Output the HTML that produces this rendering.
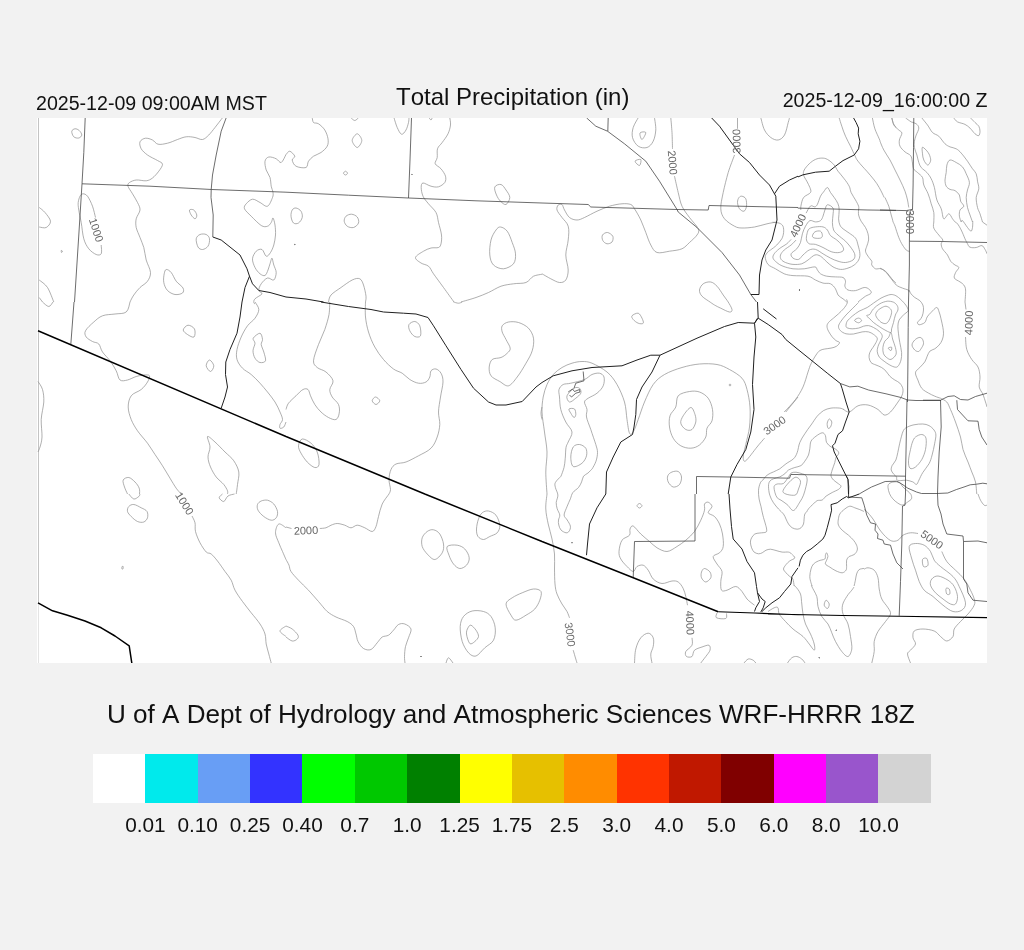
<!DOCTYPE html>
<html><head><meta charset="utf-8"><title>Total Precipitation (in)</title>
<style>
html,body{margin:0;padding:0;}
body{font-kerning:none;width:1024px;height:950px;background:#f2f2f2;position:relative;overflow:hidden;font-family:"Liberation Sans",sans-serif;color:#111;}
#map{position:absolute;left:37px;top:118px;width:950px;height:545px;background:#fff;}
.t{position:absolute;white-space:nowrap;line-height:1;font-kerning:none;}
#tl{left:36px;top:94.2px;font-size:19.6px;}
#tc{left:396px;top:85.1px;font-size:24px;}
#tr{right:36.5px;top:91.2px;font-size:19.6px;}
#bt{left:106.9px;top:701px;font-size:26.1px;}
#cb{position:absolute;left:93px;top:754px;width:838px;height:49px;}
#cb i{position:absolute;top:0;height:49px;display:block;}
.lb{position:absolute;top:815px;font-size:20.8px;line-height:1;transform:translateX(-50%);white-space:nowrap;}
</style></head><body>
<div id="tl" class="t">2025-12-09 09:00AM MST</div>
<div id="tc" class="t">Total Precipitation (in)</div>
<div id="tr" class="t">2025-12-09_16:00:00 Z</div>
<div id="map">
<svg id="ms" width="950" height="545" viewBox="37 118 950 545" style="position:absolute;left:0;top:0" fill="none">
<path stroke="#c4c4c4" stroke-width="1" d="M38.5 118V603"/><path stroke="#e4e4e4" stroke-width="1" d="M38.5 603V663"/>
<path stroke="#8c8c8c" stroke-width="0.7" d="M71.8 131.2C72.0 129.9 73.8 128.9 75.0 128.8C76.2 128.6 78.1 129.5 79.2 130.5C80.4 131.5 81.8 133.8 81.8 135.0C81.7 136.2 80.1 137.7 78.8 138.0C77.4 138.3 74.9 137.9 73.8 136.8C72.6 135.6 71.5 132.6 71.8 131.2ZM222.5 117.8C221.2 119.4 217.3 124.6 215.0 127.5C212.7 130.4 210.8 133.0 208.8 135.0C206.7 137.0 204.8 139.1 202.5 139.5C200.2 139.9 197.7 138.0 195.0 137.5C192.3 137.0 189.2 136.4 186.2 136.8C183.3 137.1 180.6 138.4 177.5 139.5C174.4 140.6 170.8 142.5 167.5 143.2C164.2 144.0 160.5 144.8 158.0 144.2C155.5 143.7 154.6 141.0 152.5 140.0C150.4 139.0 147.6 138.0 145.5 138.2C143.4 138.5 140.7 140.0 140.0 141.8C139.3 143.5 140.0 146.5 141.2 148.8C142.5 151.0 144.8 153.0 147.5 155.0C150.2 157.0 155.0 159.0 157.5 160.5C160.0 162.0 162.3 162.5 162.5 164.2C162.7 166.0 160.4 169.0 158.8 171.2C157.1 173.5 154.6 176.4 152.5 178.0C150.4 179.6 149.0 180.4 146.2 180.8C143.5 181.1 139.0 179.7 136.2 180.0C133.5 180.3 130.9 181.5 129.5 182.5C128.1 183.5 127.5 184.4 128.0 186.2C128.5 188.1 130.9 191.0 132.5 193.8C134.1 196.5 136.2 199.8 137.5 202.5C138.8 205.2 140.2 207.3 140.0 210.0C139.8 212.7 136.9 215.8 136.2 218.8C135.6 221.7 135.6 224.4 136.2 227.5C136.9 230.6 138.8 234.2 140.0 237.5C141.2 240.8 142.7 243.8 143.8 247.5C144.8 251.2 145.1 255.8 146.2 260.0C147.4 264.2 150.3 269.0 150.5 272.5C150.7 276.0 149.2 278.8 147.5 281.2C145.8 283.8 142.3 285.2 140.0 287.5C137.7 289.8 135.4 292.6 133.8 295.0C132.1 297.4 130.6 300.8 130.0 302.0M95.5 217.5C95.0 215.6 93.8 209.8 92.5 206.2C91.2 202.7 89.1 198.3 87.5 196.2C85.9 194.2 84.2 193.8 83.0 193.8C81.8 193.8 80.8 194.8 80.0 196.2C79.2 197.7 78.5 200.2 78.2 202.5C78.0 204.8 78.2 206.7 78.8 210.0C79.2 213.3 80.4 217.7 81.2 222.5C82.1 227.3 82.5 234.4 83.8 238.8C85.0 243.1 86.7 246.1 88.8 248.8C90.8 251.4 94.2 253.7 96.2 254.5C98.3 255.3 100.4 255.3 101.2 253.8C102.1 252.2 101.2 246.5 101.2 245.0M39.2 207.5C40.2 208.3 43.1 210.2 45.0 212.5C46.9 214.8 50.3 218.8 50.5 221.2C50.7 223.8 48.1 226.5 46.2 227.5C44.4 228.5 40.4 227.1 39.2 227.0M39.2 280.0C40.6 281.2 45.1 283.8 47.5 287.5C49.9 291.2 52.7 299.6 53.8 302.0M39.2 297.5 L42.5 302.0M61.2 250.5C61.4 250.3 62.5 250.9 62.5 251.2C62.5 251.6 61.7 252.6 61.5 252.5C61.3 252.4 61.1 250.7 61.2 250.5ZM189.5 210.0C189.9 209.2 192.5 209.2 193.8 210.0C195.0 210.8 196.5 213.5 196.8 215.0C197.0 216.5 195.9 218.8 195.0 218.8C194.1 218.8 192.2 216.5 191.2 215.0C190.3 213.5 189.1 210.8 189.5 210.0ZM196.2 238.8C196.6 236.7 198.3 235.2 200.0 234.5C201.7 233.8 204.7 233.8 206.2 234.5C207.8 235.2 209.2 236.8 209.5 238.8C209.8 240.7 209.2 244.5 208.0 246.2C206.8 248.0 204.2 249.4 202.5 249.5C200.8 249.6 199.0 248.8 198.0 247.0C197.0 245.2 195.9 240.8 196.2 238.8ZM166.2 269.5C167.4 269.3 169.6 270.5 171.2 272.5C172.9 274.5 174.3 278.7 176.2 281.2C178.2 283.8 182.0 286.0 183.0 288.0C184.0 290.0 183.8 291.9 182.5 293.0C181.2 294.1 177.5 294.9 175.0 294.5C172.5 294.1 169.4 292.5 167.5 290.5C165.6 288.5 164.3 285.3 163.8 282.5C163.2 279.7 163.8 275.9 164.2 273.8C164.7 271.6 165.1 269.7 166.2 269.5ZM286.0 154.5C285.2 155.8 282.9 161.8 281.2 162.5C279.6 163.2 278.3 159.7 276.2 158.8C274.2 157.8 270.6 156.6 268.8 157.0C266.9 157.4 265.4 159.1 265.0 161.2C264.6 163.4 265.4 167.3 266.2 170.0C267.1 172.7 269.2 174.8 270.0 177.5C270.8 180.2 270.8 183.8 271.2 186.2C271.8 188.8 272.8 190.6 273.0 192.5C273.2 194.4 273.4 195.2 272.5 197.5C271.6 199.8 269.6 205.4 267.5 206.2C265.4 207.1 262.5 203.7 260.0 202.5C257.5 201.3 254.8 199.0 252.5 199.2C250.2 199.5 247.6 202.2 246.2 203.8C244.9 205.3 243.7 206.7 244.5 208.8C245.3 210.8 248.5 213.5 251.2 216.2C254.0 219.0 258.5 223.8 261.2 225.5C264.0 227.2 265.8 226.8 267.5 226.2C269.2 225.8 270.3 223.9 271.2 222.5C272.2 221.1 272.4 217.6 273.0 218.0C273.6 218.4 274.6 222.2 275.0 225.0C275.4 227.8 275.7 231.7 275.5 235.0C275.3 238.3 274.6 242.1 273.8 245.0C272.9 247.9 271.8 250.6 270.5 252.5C269.2 254.4 267.7 256.8 266.2 256.2C264.8 255.8 263.7 250.3 262.0 249.5C260.3 248.7 257.8 249.7 256.2 251.2C254.7 252.8 252.7 256.0 252.5 258.8C252.3 261.5 253.8 265.0 255.0 267.5C256.2 270.0 258.3 272.4 260.0 273.8C261.7 275.1 263.7 276.1 265.0 275.5C266.3 274.9 267.2 272.0 268.0 270.0C268.8 268.0 269.3 265.7 270.0 263.8C270.7 261.8 271.4 258.0 272.0 258.2C272.6 258.5 273.0 262.6 273.8 265.0C274.5 267.4 276.2 270.0 276.2 272.5C276.2 275.0 275.2 279.1 273.8 280.0C272.3 280.9 269.6 277.4 267.5 278.0C265.4 278.6 262.7 281.7 261.2 283.8C259.8 285.8 258.6 288.8 258.8 290.5C258.9 292.2 262.6 292.4 262.0 293.8C261.4 295.1 256.4 297.3 255.0 298.8C253.6 300.2 253.8 301.6 253.8 302.5C253.8 303.4 254.8 303.8 255.0 304.0M286.0 154.5C286.6 154.0 288.3 151.0 289.8 151.2C291.2 151.5 294.3 154.8 294.8 156.2C295.2 157.7 292.0 158.3 292.2 160.0C292.5 161.7 293.7 165.0 296.0 166.2C298.3 167.5 303.9 168.3 306.0 167.5C308.1 166.7 307.2 163.1 308.5 161.2C309.8 159.4 311.4 157.7 313.5 156.2C315.6 154.8 318.7 154.2 321.0 152.5C323.3 150.8 326.1 148.5 327.2 146.2C328.4 144.0 328.4 141.5 328.0 138.8C327.6 136.0 326.3 132.5 324.8 130.0C323.2 127.5 320.4 125.0 318.5 123.8C316.6 122.5 314.5 123.5 313.5 122.5C312.5 121.5 312.5 118.5 312.2 117.8M357.2 133.8C358.8 133.8 361.8 138.2 361.8 140.5C361.8 142.8 358.8 147.5 357.2 147.5C355.7 147.5 352.2 142.8 352.2 140.5C352.2 138.2 355.7 133.8 357.2 133.8ZM351.0 117.8C351.6 118.2 353.5 120.5 354.8 120.5C356.0 120.5 357.9 118.2 358.5 117.8M394.0 117.8C394.5 119.4 396.0 124.8 397.2 127.5C398.5 130.2 400.0 133.8 401.5 134.2C403.0 134.7 404.8 132.0 406.0 130.0C407.2 128.0 408.0 124.5 408.5 122.5C409.0 120.5 408.9 118.5 409.0 117.8M343.5 173.2C343.5 172.6 344.8 171.2 345.5 171.2C346.2 171.2 347.5 172.6 347.5 173.2C347.5 173.9 346.2 175.0 345.5 175.0C344.8 175.0 343.5 173.9 343.5 173.2ZM429.0 117.8C429.3 118.1 430.5 120.0 431.0 120.0C431.5 120.0 432.0 118.1 432.2 117.8M449.8 117.8C449.9 119.0 450.8 122.3 450.5 125.0C450.2 127.7 449.4 130.8 448.0 133.8C446.6 136.7 444.0 140.0 442.2 142.5C440.5 145.0 438.3 146.2 437.5 148.8C436.7 151.2 437.6 155.0 437.2 157.5C436.9 160.0 434.6 161.9 435.2 163.8C435.9 165.6 439.3 166.7 441.0 168.8C442.7 170.8 444.9 174.0 445.5 176.2C446.1 178.5 445.9 180.8 444.8 182.5C443.6 184.2 440.8 186.1 438.5 186.8C436.2 187.4 433.6 186.9 431.0 186.2C428.4 185.6 424.6 182.8 423.0 183.0C421.4 183.2 421.2 185.3 421.2 187.5C421.2 189.7 421.8 193.5 423.0 196.2C424.2 199.0 426.3 201.0 428.5 203.8C430.7 206.5 434.3 209.4 436.0 212.5C437.7 215.6 437.6 218.8 438.5 222.5C439.4 226.2 441.1 231.5 441.5 235.0C441.9 238.5 441.5 241.7 441.0 243.8C440.5 245.8 440.2 246.8 438.5 247.5C436.8 248.2 433.5 247.4 431.0 248.0C428.5 248.6 426.1 249.7 423.5 251.2C420.9 252.8 415.9 255.5 415.5 257.5C415.1 259.5 418.8 261.5 421.0 263.0C423.2 264.5 426.4 264.5 428.5 266.2C430.6 268.0 431.0 270.2 433.5 273.8C436.0 277.3 440.1 282.8 443.5 287.5C446.9 292.2 452.2 299.6 454.0 302.0M494.8 187.0C495.5 185.2 499.1 184.0 501.0 184.5C502.9 185.0 504.5 187.8 506.0 190.0C507.5 192.2 509.8 195.1 509.8 197.5C509.8 199.9 507.5 203.9 506.0 204.5C504.5 205.1 502.1 202.8 500.5 201.2C498.9 199.7 497.5 197.4 496.5 195.0C495.5 192.6 494.0 188.8 494.8 187.0ZM500.5 227.0C502.4 227.2 505.3 228.7 507.2 231.2C509.2 233.8 510.9 238.8 512.2 242.5C513.6 246.2 515.3 250.2 515.5 253.8C515.7 257.3 515.5 261.2 513.5 263.8C511.5 266.2 506.8 268.5 503.5 268.8C500.2 269.0 495.8 267.3 493.5 265.0C491.2 262.7 490.2 259.2 489.8 255.0C489.3 250.8 490.0 244.2 491.0 240.0C492.0 235.8 494.4 232.2 496.0 230.0C497.6 227.8 498.6 226.8 500.5 227.0ZM296.0 208.0C297.5 208.2 300.0 209.7 301.0 211.2C302.0 212.8 302.7 215.5 302.2 217.5C301.8 219.5 300.0 222.1 298.5 223.0C297.0 223.9 294.8 224.1 293.5 223.0C292.2 221.9 291.2 218.4 291.0 216.2C290.8 214.1 291.4 211.4 292.2 210.0C293.1 208.6 294.5 207.8 296.0 208.0ZM351.5 214.2C353.4 214.4 356.1 215.5 357.2 217.0C358.4 218.5 359.1 221.2 358.5 223.0C357.9 224.8 355.4 227.0 353.5 227.5C351.6 228.0 348.8 227.3 347.2 226.2C345.7 225.2 344.5 222.9 344.2 221.2C344.0 219.6 344.8 217.4 346.0 216.2C347.2 215.1 349.6 214.1 351.5 214.2ZM328.5 302.0C328.9 300.8 328.9 297.4 331.0 295.0C333.1 292.6 337.5 290.0 341.0 287.5C344.5 285.0 349.1 281.5 352.2 280.0C355.4 278.5 357.9 277.9 359.8 278.8C361.6 279.6 362.5 282.1 363.5 285.0C364.5 287.9 365.7 293.4 366.0 296.2C366.3 299.1 365.6 301.0 365.5 302.0M461.0 302.0C463.5 301.2 471.4 299.1 476.0 297.5C480.6 295.9 484.3 294.4 488.5 292.5C492.7 290.6 496.8 287.7 501.0 286.2C505.2 284.8 509.3 284.4 513.5 283.8C517.7 283.1 522.7 283.8 526.0 282.5C529.3 281.2 530.8 277.6 533.5 276.2C536.2 274.9 540.6 274.6 542.0 274.2M638.2 117.8C637.4 119.4 634.2 124.2 633.2 127.5C632.3 130.8 631.7 134.4 632.5 137.5C633.3 140.6 635.8 144.6 638.2 146.2C640.7 147.9 644.5 148.3 647.0 147.5C649.5 146.7 651.8 144.2 653.2 141.2C654.7 138.3 655.5 133.9 655.8 130.0C656.0 126.1 654.7 119.8 654.5 117.8M640.0 133.0C640.6 131.8 645.4 131.4 645.8 132.5C646.1 133.6 643.0 139.4 642.0 139.5C641.0 139.6 639.4 134.2 640.0 133.0ZM635.0 161.2C635.2 160.2 640.0 158.8 640.8 159.5C641.5 160.2 640.5 165.2 639.5 165.5C638.5 165.8 634.8 162.2 635.0 161.2ZM670.8 117.8C671.0 120.2 671.7 127.3 672.0 132.5C672.3 137.7 672.4 146.0 672.5 148.8M674.5 176.2C675.1 179.0 677.0 187.5 678.2 192.5C679.5 197.5 680.1 202.1 682.0 206.2C683.9 210.4 686.8 213.8 689.5 217.5C692.2 221.2 697.0 225.8 698.2 228.8C699.5 231.7 698.5 232.7 697.0 235.0C695.5 237.3 692.0 240.2 689.5 242.5C687.0 244.8 685.3 247.3 682.0 248.8C678.7 250.2 673.7 250.6 669.5 251.2C665.3 251.9 660.1 253.5 657.0 252.5C653.9 251.5 652.6 248.3 650.8 245.0C648.9 241.7 647.4 236.7 645.8 232.5C644.1 228.3 642.6 224.0 640.8 220.0C638.9 216.0 636.2 211.3 634.5 208.8C632.8 206.2 632.8 205.3 630.8 204.5C628.7 203.7 625.5 203.5 622.0 203.8C618.5 204.0 613.7 205.0 609.5 206.2C605.3 207.5 601.2 209.4 597.0 211.2C592.8 213.1 587.8 216.0 584.5 217.5C581.2 219.0 579.5 220.0 577.0 220.0C574.5 220.0 571.6 219.2 569.5 217.5C567.4 215.8 565.8 212.2 564.5 210.0C563.2 207.8 563.0 205.3 562.0 204.5C561.0 203.7 559.1 204.1 558.2 205.0C557.4 205.9 556.4 207.9 557.0 210.0C557.6 212.1 560.1 214.8 562.0 217.5C563.9 220.2 567.2 222.5 568.2 226.2C569.3 230.0 568.7 235.2 568.2 240.0C567.8 244.8 565.8 250.0 565.8 255.0C565.8 260.0 568.2 265.8 568.2 270.0C568.2 274.2 567.2 277.9 565.8 280.0C564.3 282.1 562.0 282.7 559.5 282.5C557.0 282.3 553.7 280.2 550.8 278.8C547.8 277.3 543.5 274.6 542.0 273.8M737.5 117.8 L737.5 128.8M734.5 155.0C733.5 157.9 730.1 166.2 728.2 172.5C726.4 178.8 724.5 186.5 723.2 192.5C722.0 198.5 720.5 204.4 720.8 208.8C721.0 213.1 722.2 215.8 724.5 218.8C726.8 221.7 731.6 224.7 734.5 226.2C737.4 227.8 738.7 227.9 742.0 228.0C745.3 228.1 750.3 227.7 754.5 227.0C758.7 226.3 763.2 224.6 767.0 223.8C770.8 222.9 775.3 222.3 777.0 222.0M742.0 196.2C743.1 196.5 745.0 197.1 745.8 198.8C746.5 200.4 746.8 204.2 746.5 206.2C746.2 208.3 745.2 210.8 744.0 211.2C742.8 211.7 740.6 210.2 739.5 208.8C738.4 207.3 737.6 204.4 737.5 202.5C737.4 200.6 738.2 198.5 739.0 197.5C739.8 196.5 740.9 196.0 742.0 196.2ZM607.5 232.5C609.2 232.7 612.0 234.7 612.8 236.2C613.5 237.8 613.0 240.8 612.0 242.0C611.0 243.2 608.5 244.0 607.0 243.8C605.5 243.5 603.5 242.0 602.8 240.5C602.0 239.0 601.7 236.3 602.5 235.0C603.3 233.7 605.8 232.3 607.5 232.5ZM760.8 117.8C761.4 119.8 762.8 126.7 764.5 130.0C766.2 133.3 768.5 135.8 770.8 137.5C773.0 139.2 776.0 140.4 778.2 140.0C780.5 139.6 782.8 137.9 784.5 135.0C786.2 132.1 787.4 125.4 788.2 122.5C789.1 119.6 789.3 118.5 789.5 117.8M728.2 302.0C727.4 300.8 725.1 297.6 723.2 295.0C721.4 292.4 719.1 288.4 717.0 286.2C714.9 284.1 713.0 282.4 710.8 282.0C708.5 281.6 705.1 282.4 703.2 283.8C701.4 285.1 699.7 287.9 699.5 290.0C699.3 292.1 700.2 294.2 702.0 296.2C703.8 298.2 708.7 301.0 710.0 302.0M800.8 210.0C800.8 209.2 800.6 207.1 801.1 205.0C801.6 202.9 802.1 199.6 803.6 197.5C805.2 195.4 809.5 194.2 810.5 192.5C811.5 190.8 810.5 189.4 809.9 187.5C809.2 185.6 807.8 183.3 806.8 181.2C805.7 179.2 804.0 176.9 803.6 175.0C803.2 173.1 803.3 171.9 804.2 170.0C805.2 168.1 807.4 165.5 809.2 163.8C811.1 162.0 813.4 160.3 815.5 159.4C817.6 158.4 819.8 158.1 821.8 158.1C823.7 158.1 825.3 158.2 827.4 159.4C829.5 160.5 832.5 163.0 834.2 165.0C836.0 167.0 836.3 169.0 838.0 171.2C839.7 173.5 842.4 176.2 844.2 178.8C846.1 181.2 848.1 184.0 849.2 186.2C850.4 188.5 850.1 190.2 851.1 192.5C852.2 194.8 854.2 197.7 855.5 200.0C856.8 202.3 858.1 204.6 858.6 206.2C859.1 207.9 858.6 209.4 858.6 210.0M839.2 118.0C839.7 119.4 840.7 123.2 841.8 126.2C842.8 129.3 844.0 132.9 845.5 136.2C847.0 139.6 848.9 143.0 850.5 146.2C852.1 149.5 853.6 153.1 854.9 155.6C856.1 158.1 856.0 158.6 858.0 161.2C860.0 163.9 864.0 168.1 866.8 171.2C869.5 174.4 872.2 177.3 874.2 180.0C876.3 182.7 877.6 184.6 879.2 187.5C880.9 190.4 883.4 195.8 884.2 197.5M872.4 118.0C872.8 119.8 873.7 125.3 874.9 128.8C876.0 132.2 878.4 136.7 879.2 138.8C880.1 140.8 879.9 140.8 880.0 141.2M891.8 118.0C892.1 119.0 892.9 122.2 893.6 123.8C894.3 125.3 895.6 126.9 896.0 127.5M814.9 231.9C816.2 231.0 819.2 230.6 820.5 231.2C821.8 231.9 822.4 234.5 822.4 235.6C822.4 236.8 821.8 237.7 820.5 238.1C819.2 238.5 816.2 238.4 814.9 238.1C813.5 237.8 812.4 237.3 812.4 236.2C812.4 235.2 813.5 232.7 814.9 231.9ZM809.2 228.8C810.7 227.6 813.2 227.2 815.5 226.9C817.8 226.6 821.0 226.4 823.0 226.9C825.0 227.4 826.1 228.5 827.4 230.0C828.6 231.5 828.9 234.0 830.5 235.6C832.1 237.3 834.9 238.4 836.8 240.0C838.6 241.6 840.6 243.3 841.8 245.0C842.9 246.7 844.0 248.8 843.6 250.0C843.2 251.2 841.2 252.2 839.2 252.5C837.3 252.8 834.5 252.7 831.8 251.9C829.0 251.0 825.7 248.8 823.0 247.5C820.3 246.2 817.8 245.0 815.5 244.4C813.2 243.8 810.8 244.5 809.2 243.8C807.8 243.0 806.9 241.7 806.5 240.0C806.1 238.3 806.5 235.6 807.0 233.8C807.5 231.9 807.8 229.9 809.2 228.8ZM827.4 204.8C828.7 204.4 832.1 206.4 833.0 208.1C833.9 209.8 833.1 212.6 833.0 215.0C832.9 217.4 832.3 220.0 832.4 222.5C832.5 225.0 832.7 227.9 833.6 230.0C834.6 232.1 836.0 233.1 838.0 235.0C840.0 236.9 843.2 239.0 845.5 241.2C847.8 243.5 850.2 246.5 851.8 248.8C853.3 251.0 854.7 253.1 854.9 255.0C855.1 256.9 854.6 258.8 853.0 260.0C851.4 261.2 848.0 262.3 845.5 262.5C843.0 262.7 840.5 262.0 838.0 261.2C835.5 260.5 833.0 259.4 830.5 258.1C828.0 256.9 825.5 255.2 823.0 253.8C820.5 252.3 817.8 250.0 815.5 249.4C813.2 248.8 811.3 249.1 809.2 250.0C807.2 250.9 804.8 253.4 803.0 255.0C801.2 256.6 800.3 258.9 798.6 259.4C797.0 259.9 794.2 259.1 793.0 258.1C791.8 257.2 790.5 255.3 791.1 253.8C791.8 252.2 795.2 250.6 796.8 248.8C798.3 246.9 799.6 245.0 800.5 242.5C801.4 240.0 801.5 236.5 802.4 233.8C803.2 231.0 804.2 228.4 805.5 226.2C806.8 224.1 808.2 221.4 809.9 220.6C811.5 219.9 813.7 221.9 815.5 221.9C817.3 221.9 819.2 221.6 820.5 220.6C821.8 219.7 822.3 218.0 823.0 216.2C823.7 214.5 824.1 211.9 824.9 210.0C825.6 208.1 826.0 205.1 827.4 204.8ZM791.1 239.4C790.4 240.1 788.7 242.2 786.8 243.8C784.8 245.3 781.3 247.1 779.2 248.8C777.2 250.4 775.3 252.2 774.2 253.8C773.2 255.3 772.6 256.7 773.0 258.1C773.4 259.6 775.1 261.1 776.8 262.5C778.4 263.9 780.3 265.2 783.0 266.2C785.7 267.3 789.5 268.3 793.0 268.8C796.5 269.2 800.6 269.1 804.2 268.8C807.9 268.4 812.7 266.7 814.9 266.9C817.1 267.1 816.4 268.9 817.4 270.0C818.3 271.1 818.9 272.7 820.5 273.8C822.1 274.8 824.2 275.7 826.8 276.2C829.2 276.8 832.8 276.7 835.5 276.9C838.2 277.1 841.3 276.8 843.0 277.5C844.7 278.2 845.2 279.8 845.5 281.2C845.8 282.7 844.5 284.8 844.9 286.2C845.3 287.7 846.2 289.3 848.0 290.0C849.8 290.7 852.8 291.0 855.5 290.6C858.2 290.2 862.0 287.7 864.2 287.5C866.5 287.3 868.1 288.4 869.2 289.4C870.4 290.3 871.8 292.0 871.1 293.1C870.5 294.3 867.3 295.1 865.5 296.2C863.7 297.4 861.8 299.0 860.5 300.0C859.2 301.0 858.4 301.7 858.0 302.0M806.1 213.1C806.9 211.9 809.0 207.0 810.5 206.0C812.0 205.0 813.7 207.1 814.9 206.9C816.0 206.6 816.4 206.1 817.4 204.4C818.3 202.6 819.5 198.3 820.5 196.2C821.5 194.2 822.5 193.3 823.6 191.9C824.8 190.4 826.2 187.4 827.4 187.5C828.5 187.6 829.4 190.8 830.5 192.5C831.6 194.2 833.0 195.6 834.2 197.5C835.5 199.4 837.2 201.7 838.0 203.8C838.8 205.8 839.1 207.5 839.2 210.0C839.4 212.5 838.5 216.2 838.6 218.8C838.7 221.2 839.1 223.3 839.9 225.0C840.6 226.7 841.4 227.4 843.0 228.8C844.6 230.1 847.2 231.6 849.2 233.1C851.3 234.7 854.0 236.1 855.5 238.1C857.0 240.1 857.3 242.4 858.0 245.0C858.7 247.6 859.8 251.2 859.9 253.8C860.0 256.2 859.6 258.1 858.6 260.0C857.7 261.9 856.0 263.6 854.2 265.0C852.5 266.4 850.3 267.4 848.0 268.1C845.7 268.9 843.0 269.6 840.5 269.4C838.0 269.2 835.3 268.1 833.0 266.9C830.7 265.6 828.8 263.6 826.8 261.9C824.7 260.1 822.5 257.4 820.5 256.2C818.5 255.1 817.0 254.4 814.9 255.0C812.8 255.6 810.2 258.5 808.0 260.0C805.8 261.5 804.2 263.0 801.8 263.8C799.2 264.5 795.7 264.6 793.0 264.4C790.3 264.2 787.5 263.3 785.5 262.5C783.5 261.7 782.0 260.6 781.1 259.4C780.3 258.1 780.0 256.6 780.5 255.0C781.0 253.4 782.5 251.7 784.2 250.0C786.0 248.3 789.1 246.7 791.1 245.0C793.1 243.3 795.3 240.8 796.1 240.0M772.5 222.2C773.6 222.4 777.5 222.5 779.2 223.1C781.0 223.8 782.3 224.7 783.0 226.2C783.7 227.8 783.8 230.4 783.6 232.5C783.4 234.6 782.9 236.7 781.8 238.8C780.6 240.8 778.6 243.1 776.8 245.0C774.9 246.9 772.0 248.9 770.5 250.0C769.0 251.1 768.9 250.8 768.0 251.9C767.1 253.0 765.2 254.7 765.2 256.8C765.2 258.8 766.3 262.4 768.0 264.4C769.7 266.4 772.8 267.2 775.5 268.8C778.2 270.3 781.3 272.6 784.2 273.8C787.2 274.9 789.0 275.2 793.0 275.6C797.0 276.0 804.2 275.5 808.0 276.2C811.8 277.0 813.0 278.9 815.5 280.0C818.0 281.1 820.5 282.5 823.0 283.1C825.5 283.8 828.4 282.8 830.5 283.8C832.6 284.7 834.2 286.9 835.5 288.8C836.8 290.6 836.8 293.3 838.0 295.0C839.2 296.7 841.5 297.6 843.0 298.8C844.5 299.9 846.1 301.5 846.8 302.0M858.6 208.8C858.6 209.8 858.2 212.9 858.6 215.0C859.0 217.1 860.0 219.2 861.1 221.2C862.3 223.3 864.4 225.4 865.5 227.5C866.6 229.6 867.5 231.7 868.0 233.8C868.5 235.8 868.8 237.9 868.6 240.0C868.4 242.1 867.3 244.4 866.8 246.2C866.2 248.1 865.3 249.6 865.5 251.2C865.7 252.9 867.0 254.6 868.0 256.2C869.0 257.9 871.1 259.8 871.8 261.2C872.4 262.7 871.1 263.8 871.8 265.0C872.4 266.2 873.9 268.1 875.5 268.8C877.1 269.4 879.2 268.1 881.1 268.8C883.0 269.4 885.0 270.8 886.8 272.5C888.5 274.2 890.2 277.0 891.8 278.8C893.3 280.5 895.3 282.4 896.0 283.1M799.4 289.8C799.4 289.7 799.8 289.9 799.8 290.0C799.8 290.1 799.4 290.4 799.4 290.4C799.3 290.3 799.3 289.8 799.4 289.8ZM880.0 141.2C880.6 142.7 882.1 146.9 883.8 150.0C885.4 153.1 888.1 156.7 890.0 160.0C891.9 163.3 893.3 166.7 895.0 170.0C896.7 173.3 898.3 176.5 900.0 180.0C901.7 183.5 903.8 187.9 905.0 191.2C906.2 194.6 906.9 197.3 907.5 200.0C908.1 202.7 908.5 206.2 908.8 207.5M885.0 197.5C885.6 199.0 887.7 203.3 888.8 206.2C889.8 209.2 890.5 212.4 891.2 215.0C892.0 217.6 892.8 220.8 893.1 222.0M891.9 118.0C892.2 119.2 892.6 123.0 893.8 125.0C894.9 127.0 897.4 128.6 898.8 130.0C900.1 131.4 901.8 131.5 901.9 133.1C902.0 134.8 899.7 137.8 899.4 140.0C899.1 142.2 899.1 144.3 900.0 146.2C900.9 148.2 903.2 150.3 905.0 151.9C906.8 153.4 909.4 154.1 910.6 155.6C911.8 157.2 911.8 159.1 912.2 161.2C912.7 163.4 912.6 166.9 913.5 168.8C914.4 170.6 916.0 171.0 917.5 172.5C919.0 174.0 921.5 175.4 922.5 177.5C923.5 179.6 922.8 182.3 923.8 185.0C924.7 187.7 926.9 190.6 928.1 193.8C929.4 196.9 930.3 200.6 931.2 203.8C932.2 206.9 933.3 209.5 933.8 212.5C934.2 215.5 933.8 220.4 933.8 222.0M905.6 118.0C906.6 118.6 909.5 120.9 911.2 121.9C913.0 122.8 915.0 122.7 916.2 123.8C917.5 124.8 918.8 126.2 918.8 128.1C918.8 130.0 917.0 132.8 916.2 135.0C915.5 137.2 914.7 139.2 914.4 141.2C914.1 143.3 914.0 145.2 914.4 147.5C914.8 149.8 916.1 152.5 916.9 155.0C917.6 157.5 918.0 160.4 918.8 162.5C919.5 164.6 919.9 165.8 921.2 167.5C922.6 169.2 925.2 170.6 926.9 172.5C928.5 174.4 930.0 176.2 931.2 178.8C932.5 181.2 933.4 184.0 934.4 187.5C935.3 191.0 935.7 196.5 936.9 200.0C938.0 203.5 940.1 205.6 941.2 208.8C942.4 211.9 942.5 217.9 943.8 218.8C945.0 219.6 947.3 213.8 948.8 213.8C950.2 213.8 951.5 217.4 952.5 218.8C953.5 220.1 954.6 221.5 955.0 222.0M921.9 118.0C922.8 119.2 925.7 122.6 927.5 125.0C929.3 127.4 930.6 130.6 932.5 132.5C934.4 134.4 936.7 134.4 938.8 136.2C940.8 138.1 943.1 142.0 945.0 143.8C946.9 145.5 948.1 146.0 950.0 146.9C951.9 147.7 954.4 147.7 956.2 148.8C958.1 149.8 959.4 151.0 961.2 153.1C963.1 155.2 965.6 158.6 967.5 161.2C969.4 163.9 971.0 166.7 972.5 168.8C974.0 170.8 975.4 171.7 976.2 173.8C977.1 175.8 977.1 178.8 977.5 181.2C977.9 183.8 979.0 186.0 978.8 188.8C978.5 191.5 976.5 194.4 976.2 197.5C976.0 200.6 976.9 204.8 977.5 207.5C978.1 210.2 979.2 211.3 980.0 213.8C980.8 216.2 982.1 220.6 982.5 222.0M953.8 118.0C954.4 118.6 955.6 120.8 957.5 121.9C959.4 122.9 962.9 123.3 965.0 124.4C967.1 125.4 968.3 126.6 970.0 128.1C971.7 129.7 973.5 132.5 975.0 133.8C976.5 135.0 977.9 136.0 978.8 135.6C979.6 135.2 980.0 132.8 980.0 131.2C980.0 129.7 979.6 127.7 978.8 126.2C977.9 124.8 976.4 123.9 975.0 122.5C973.6 121.1 971.4 118.8 970.6 118.0M922.5 147.2C923.4 147.0 926.8 150.6 928.1 152.5C929.5 154.4 930.3 157.1 930.6 158.8C930.9 160.4 930.5 161.5 930.0 162.5C929.5 163.5 928.5 165.4 927.5 165.0C926.5 164.6 924.6 161.9 923.8 160.0C922.9 158.1 922.7 155.9 922.5 153.8C922.3 151.6 921.6 147.5 922.5 147.2ZM961.2 222.0C960.9 221.0 959.6 218.2 959.4 216.2C959.2 214.2 959.3 211.7 960.0 210.0C960.7 208.3 963.6 207.7 963.8 206.2C963.9 204.8 961.4 203.1 960.6 201.2C959.9 199.4 960.3 196.8 959.4 195.0C958.4 193.2 956.6 191.6 955.0 190.6C953.4 189.7 951.5 190.1 950.0 189.4C948.5 188.6 947.1 187.8 946.2 186.2C945.4 184.7 945.0 182.3 945.0 180.0C945.0 177.7 945.9 175.0 946.2 172.5C946.6 170.0 946.2 167.1 946.9 165.0C947.5 162.9 948.4 160.4 950.0 160.0C951.6 159.6 954.2 161.4 956.2 162.5C958.3 163.6 960.8 165.0 962.5 166.9C964.2 168.8 965.1 171.1 966.2 173.8C967.4 176.4 969.2 179.8 969.4 182.5C969.6 185.2 968.0 187.5 967.5 190.0C967.0 192.5 966.2 194.6 966.2 197.5C966.2 200.4 966.9 204.6 967.5 207.5C968.1 210.4 969.2 212.6 970.0 215.0C970.8 217.4 972.1 220.8 972.5 222.0M893.1 222.0C893.4 222.7 894.1 223.7 895.0 226.2C895.9 228.8 897.5 234.4 898.8 237.5C900.0 240.6 901.2 242.9 902.5 245.0C903.8 247.1 905.1 248.9 906.2 250.0C907.4 251.1 908.9 251.2 909.4 251.5M933.8 222.0C933.8 223.0 932.9 226.0 933.8 228.1C934.6 230.3 937.2 233.0 938.8 235.0C940.2 237.0 942.3 238.5 942.8 240.0C943.2 241.5 941.3 242.3 941.2 243.8C941.2 245.2 941.5 246.9 942.5 248.8C943.5 250.6 946.1 252.9 947.5 255.0C948.9 257.1 949.4 259.6 950.6 261.2C951.9 262.9 953.6 264.0 955.0 265.0C956.4 266.0 958.6 266.2 958.8 267.5C958.9 268.8 956.4 270.7 955.6 272.5C954.9 274.3 953.6 276.6 954.4 278.1C955.1 279.7 958.4 280.7 960.0 281.9C961.6 283.0 962.8 283.6 963.8 285.0C964.7 286.4 965.4 287.2 965.6 290.0C965.8 292.8 965.1 300.0 965.0 302.0M955.0 222.0C955.4 222.3 956.5 222.4 957.5 223.8C958.5 225.1 960.0 227.5 961.2 230.0C962.5 232.5 964.0 236.5 965.0 238.8C966.0 241.0 966.7 242.3 967.5 243.8C968.3 245.2 968.5 246.6 970.0 247.2C971.5 247.9 974.3 247.8 976.2 247.5C978.2 247.2 980.4 245.3 981.9 245.6C983.3 245.9 984.1 248.0 985.0 249.4C985.9 250.7 986.7 253.0 987.0 253.8M961.2 222.0C961.5 221.8 961.5 219.7 962.5 220.6C963.5 221.5 966.1 225.7 967.5 227.5C968.9 229.3 970.2 231.2 971.0 231.2C971.8 231.2 972.2 229.2 972.5 227.5C972.8 225.8 972.7 222.3 972.8 221.2M982.5 222.0 L987.0 225.2M880.0 268.1C880.8 268.6 883.1 269.5 885.0 271.2C886.9 273.0 889.4 276.5 891.2 278.8C893.1 281.0 894.4 283.4 896.2 285.0C898.1 286.6 900.5 287.3 902.5 288.1C904.5 289.0 907.0 289.4 908.1 290.0C909.2 290.6 909.0 291.6 909.1 291.9M42.5 302.0C43.5 302.8 47.0 306.5 48.8 306.5C50.5 306.5 52.3 302.8 53.0 302.0M130.0 302.0C129.4 303.7 128.8 310.0 126.2 312.0C123.8 314.0 119.0 313.4 115.0 314.0C111.0 314.6 106.0 314.4 102.5 315.8C99.0 317.1 96.6 319.5 93.8 322.0C90.9 324.5 86.8 328.2 85.5 330.8C84.2 333.2 85.1 335.2 86.2 337.0C87.4 338.8 90.4 340.3 92.5 341.5C94.6 342.7 97.1 342.2 98.8 344.0C100.4 345.8 100.6 349.2 102.5 352.0C104.4 354.8 107.7 357.6 110.0 360.8C112.3 363.9 114.6 367.5 116.2 370.8C117.9 374.0 118.1 378.5 120.0 380.0C121.9 381.5 124.8 380.6 127.5 380.0C130.2 379.4 133.5 377.3 136.2 376.5C139.0 375.7 141.5 375.1 143.8 375.0C146.0 374.9 148.9 374.6 149.5 375.8C150.1 376.9 148.9 379.7 147.5 382.0C146.1 384.3 144.0 387.2 141.2 389.5C138.5 391.8 133.4 392.8 131.2 395.8C129.1 398.7 128.2 403.0 128.2 407.0C128.2 411.0 129.7 415.5 131.2 419.5C132.8 423.5 134.8 426.8 137.5 430.8C140.2 434.7 144.6 439.3 147.5 443.2C150.4 447.2 152.5 450.8 155.0 454.5C157.5 458.2 160.0 461.8 162.5 465.8C165.0 469.7 167.7 474.5 170.0 478.2C172.3 482.0 174.4 485.6 176.2 488.2C178.1 490.9 180.4 493.0 181.2 494.0M188.0 325.2C189.9 325.1 193.5 327.0 194.5 329.0C195.5 331.0 195.2 336.1 194.0 337.0C192.8 337.9 189.3 335.7 187.5 334.5C185.7 333.3 183.2 331.5 183.2 330.0C183.3 328.5 186.1 325.4 188.0 325.2ZM209.5 360.0C210.8 360.0 213.6 363.8 213.8 365.8C213.9 367.7 211.8 371.5 210.5 371.5C209.2 371.5 206.4 367.7 206.2 365.8C206.1 363.8 208.2 360.0 209.5 360.0ZM255.0 302.0C255.6 303.2 258.8 306.8 258.8 309.5C258.8 312.2 256.9 315.5 255.0 318.2C253.1 321.0 249.8 322.6 247.5 325.8C245.2 328.9 243.0 333.0 241.2 337.0C239.5 341.0 237.7 345.8 237.0 349.5C236.3 353.2 236.1 356.4 237.0 359.5C237.9 362.6 240.1 365.8 242.5 368.2C244.9 370.8 248.3 372.0 251.2 374.5C254.2 377.0 257.3 380.3 260.0 383.2C262.7 386.2 265.0 388.9 267.5 392.0C270.0 395.1 272.9 398.7 275.0 402.0C277.1 405.3 278.8 409.1 280.0 412.0C281.2 414.9 282.5 417.4 282.5 419.5C282.5 421.6 280.4 423.0 280.0 424.5C279.6 426.0 279.4 427.8 280.0 428.2C280.6 428.7 282.8 428.0 283.8 427.0C284.8 426.0 285.6 422.8 286.0 422.0M260.0 333.2C261.5 333.5 262.3 337.6 262.5 339.5C262.7 341.4 261.0 342.4 261.2 344.5C261.5 346.6 263.0 349.3 263.8 352.0C264.5 354.7 266.1 359.0 265.5 360.8C264.9 362.5 261.8 362.9 260.0 362.5C258.2 362.1 256.2 360.2 255.0 358.2C253.8 356.3 253.0 353.2 253.0 350.8C253.0 348.2 255.0 345.3 255.0 343.2C255.0 341.2 252.4 339.9 253.2 338.2C254.1 336.6 258.5 333.0 260.0 333.2ZM38.0 381.5C38.8 382.8 41.5 386.1 42.5 389.5C43.5 392.9 44.0 397.0 43.8 402.0C43.5 407.0 41.5 413.7 41.2 419.5C41.0 425.3 42.2 432.4 42.0 437.0C41.8 441.6 40.7 444.5 40.0 447.0C39.3 449.5 38.3 451.2 38.0 452.0M236.2 494.0C236.5 492.4 237.1 488.2 237.5 484.5C237.9 480.8 239.4 476.0 238.8 472.0C238.1 468.0 236.0 464.1 233.8 460.8C231.5 457.4 228.1 455.1 225.0 452.0C221.9 448.9 217.9 444.6 215.0 442.0C212.1 439.4 208.3 435.7 207.5 436.5C206.7 437.3 209.9 443.6 210.0 447.0C210.1 450.4 207.9 453.7 208.0 457.0C208.1 460.3 209.1 463.7 210.5 467.0C211.9 470.3 214.0 474.1 216.2 477.0C218.5 479.9 221.9 482.2 223.8 484.5C225.6 486.8 226.9 489.2 227.5 490.8C228.1 492.3 227.5 493.5 227.5 494.0M139.5 494.0C139.5 493.0 140.0 490.2 139.2 488.2C138.5 486.2 136.8 483.8 135.0 482.0C133.2 480.2 130.7 477.8 128.8 477.5C126.8 477.2 124.0 478.4 123.2 480.0C122.5 481.6 123.8 484.7 124.5 487.0C125.2 489.3 127.0 492.8 127.5 494.0M329.8 302.0C329.6 304.1 329.8 309.9 329.0 314.5C328.2 319.1 326.5 324.5 324.8 329.5C323.0 334.5 320.4 339.3 318.5 344.5C316.6 349.7 313.7 356.9 313.5 360.8C313.3 364.6 315.2 365.6 317.2 367.5C319.3 369.4 323.4 369.8 326.0 372.0C328.6 374.2 332.4 377.8 333.0 380.8C333.6 383.7 329.9 386.8 329.8 389.5C329.6 392.2 330.8 394.5 332.2 397.0C333.7 399.5 337.3 401.8 338.5 404.5C339.7 407.2 339.7 410.8 339.2 413.2C338.8 415.8 337.8 418.8 336.0 419.5C334.2 420.2 331.0 418.8 328.5 417.5C326.0 416.2 323.3 414.2 321.0 412.0C318.7 409.8 316.5 407.2 314.8 404.5C313.0 401.8 311.6 398.2 310.5 395.8C309.4 393.2 309.2 390.5 308.0 389.5C306.8 388.5 305.0 388.5 303.0 389.5C301.0 390.5 298.4 393.5 296.0 395.8C293.6 398.0 290.2 401.0 288.5 403.2C286.8 405.5 286.4 408.5 286.0 409.5M365.5 302.0C365.5 304.5 365.0 312.0 365.5 317.0C366.0 322.0 367.0 327.0 368.5 332.0C370.0 337.0 372.2 342.4 374.8 347.0C377.2 351.6 380.4 355.8 383.5 359.5C386.6 363.2 390.4 366.7 393.5 369.0C396.6 371.3 399.5 371.5 402.2 373.2C405.0 375.0 407.0 377.8 409.8 379.5C412.5 381.2 415.8 382.8 418.5 383.2C421.2 383.7 424.1 383.0 426.0 382.0C427.9 381.0 428.9 378.9 429.8 377.0C430.6 375.1 430.0 372.1 431.0 370.8C432.0 369.4 434.3 368.6 436.0 369.0C437.7 369.4 439.8 371.1 441.0 373.2C442.2 375.4 443.1 378.0 443.0 382.0C442.9 386.0 441.2 392.0 440.5 397.0C439.8 402.0 438.6 407.4 438.5 412.0C438.4 416.6 440.0 420.3 439.8 424.5C439.5 428.7 438.7 433.0 437.2 437.0C435.8 441.0 434.1 445.1 431.0 448.2C427.9 451.4 422.7 453.5 418.5 455.8C414.3 458.0 409.8 460.6 406.0 462.0C402.2 463.4 398.5 462.8 396.0 464.0C393.5 465.2 392.2 466.9 391.0 469.5C389.8 472.1 389.1 476.2 389.0 479.5C388.9 482.8 390.5 487.1 390.5 489.5C390.5 491.9 389.2 493.2 389.0 494.0M414.8 321.5C416.5 321.7 418.8 323.4 419.8 325.8C420.7 328.1 421.3 334.0 420.5 335.8C419.7 337.5 416.5 337.3 414.8 336.5C413.0 335.7 410.7 332.8 409.8 330.8C408.8 328.8 408.2 326.0 409.0 324.5C409.8 323.0 413.0 321.3 414.8 321.5ZM375.5 397.0C376.8 397.0 379.7 399.5 379.8 400.8C379.8 402.0 377.2 404.5 376.0 404.5C374.8 404.5 372.3 402.0 372.2 400.8C372.2 399.5 374.2 397.0 375.5 397.0ZM302.2 439.0C304.3 438.6 308.5 441.1 311.0 443.2C313.5 445.4 315.9 448.5 317.2 452.0C318.6 455.5 319.4 461.9 319.0 464.5C318.6 467.1 316.7 467.9 314.8 467.5C312.8 467.1 309.5 464.4 307.2 462.0C305.0 459.6 302.5 456.0 301.0 453.2C299.5 450.5 298.3 448.1 298.5 445.8C298.7 443.4 300.2 439.4 302.2 439.0ZM453.5 302.0C454.3 302.2 457.0 303.2 458.5 303.2C460.0 303.2 461.6 302.2 462.2 302.0M502.2 325.8C503.3 324.1 505.8 322.5 508.5 322.0C511.2 321.5 515.2 321.5 518.5 322.5C521.8 323.5 526.0 325.6 528.5 328.2C531.0 330.9 532.9 334.5 533.5 338.2C534.1 342.0 533.5 346.6 532.2 350.8C531.0 354.9 528.5 358.9 526.0 363.2C523.5 367.6 520.2 373.2 517.2 377.0C514.3 380.8 511.4 385.0 508.5 385.8C505.6 386.5 502.7 383.2 499.8 381.5C496.8 379.8 492.8 378.2 491.0 375.8C489.2 373.3 489.0 369.7 489.2 367.0C489.5 364.3 490.3 361.1 492.2 359.5C494.2 357.9 498.5 358.5 501.0 357.5C503.5 356.5 505.7 354.8 507.2 353.2C508.8 351.7 510.5 350.5 510.2 348.2C510.0 346.0 507.3 342.2 506.0 339.5C504.7 336.8 502.9 334.3 502.2 332.0C501.6 329.7 501.2 327.4 502.2 325.8ZM542.0 407.0C541.8 408.0 541.0 411.2 541.0 413.2C541.0 415.3 541.8 418.5 542.0 419.5M632.0 315.8C632.8 314.7 636.6 312.8 638.2 313.2C639.9 313.7 641.2 316.6 642.0 318.2C642.8 319.9 643.9 322.4 643.2 323.2C642.6 324.1 639.9 323.9 638.2 323.2C636.6 322.6 634.3 320.8 633.2 319.5C632.2 318.2 631.2 316.8 632.0 315.8ZM710.0 302.0C710.8 302.5 712.7 304.0 714.5 305.0C716.3 306.0 718.2 307.1 720.8 308.2C723.2 309.4 727.6 311.8 729.5 312.0C731.4 312.2 732.2 311.2 732.0 309.5C731.8 307.8 728.9 303.2 728.2 302.0M547.0 494.0C546.8 490.3 545.8 479.0 545.8 472.0C545.8 465.0 547.2 458.7 547.0 452.0C546.8 445.3 545.3 438.7 544.5 432.0C543.7 425.3 542.2 417.8 542.0 412.0C541.8 406.2 542.4 401.6 543.2 397.0C544.1 392.4 545.3 388.2 547.0 384.5C548.7 380.8 550.8 377.3 553.2 374.5C555.8 371.7 558.9 369.4 562.0 367.5C565.1 365.6 568.7 364.2 572.0 363.2C575.3 362.2 578.7 361.5 582.0 361.5C585.3 361.5 587.8 361.5 592.0 363.2C596.2 365.0 602.8 368.5 607.0 372.0C611.2 375.5 614.1 379.5 617.0 384.5C619.9 389.5 622.8 396.2 624.5 402.0C626.2 407.8 626.2 414.3 627.0 419.5C627.8 424.7 628.5 431.2 629.5 433.2C630.5 435.3 631.8 434.3 633.2 432.0C634.7 429.7 636.4 424.5 638.2 419.5C640.1 414.5 642.0 407.8 644.5 402.0C647.0 396.2 649.9 389.1 653.2 384.5C656.6 379.9 659.7 377.3 664.5 374.5C669.3 371.7 676.2 369.2 682.0 367.5C687.8 365.8 693.7 364.5 699.5 364.0C705.3 363.5 712.0 363.6 717.0 364.5C722.0 365.4 725.3 367.2 729.5 369.5C733.7 371.8 739.1 374.9 742.0 378.2C744.9 381.6 745.7 384.7 747.0 389.5C748.3 394.3 749.6 400.8 750.0 407.0C750.4 413.2 750.2 420.8 749.5 427.0C748.8 433.2 746.8 439.5 745.8 444.5C744.7 449.5 743.2 454.3 743.2 457.0C743.2 459.7 743.5 462.4 745.8 460.8C748.0 459.1 753.9 450.8 757.0 447.0C760.1 443.2 763.2 439.7 764.5 438.2M785.8 412.0 L798.0 397.0M592.2 468.8C592.9 467.5 595.1 464.0 596.0 461.2C596.9 458.5 597.5 455.3 597.5 452.5C597.5 449.7 596.9 448.3 595.8 444.5C594.6 440.7 592.3 434.1 590.8 429.5C589.2 424.9 587.1 420.3 586.5 417.0C585.9 413.7 587.3 412.0 587.0 409.5C586.7 407.0 584.3 403.9 584.5 402.0C584.7 400.1 586.2 399.7 588.2 398.2C590.3 396.8 594.5 395.3 597.0 393.2C599.5 391.2 602.1 388.5 603.2 385.8C604.4 383.0 604.6 379.1 604.0 377.0C603.4 374.9 601.5 373.7 599.5 373.2C597.5 372.8 594.5 373.5 592.0 374.5C589.5 375.5 588.0 378.0 584.5 379.5C581.0 381.0 574.3 382.4 570.8 383.2C567.2 384.1 565.2 383.5 563.2 384.5C561.3 385.5 559.6 387.4 559.0 389.5C558.4 391.6 559.2 393.7 559.5 397.0C559.8 400.3 559.7 405.3 560.8 409.5C561.8 413.7 563.9 418.2 565.8 422.0C567.6 425.8 571.6 428.7 572.0 432.0C572.4 435.3 569.2 439.4 568.2 442.0C567.2 444.6 566.5 444.7 566.0 447.5C565.5 450.3 565.6 455.4 565.2 458.8C564.9 462.1 564.7 464.6 564.0 467.5C563.3 470.4 561.5 474.8 561.0 476.2M567.0 395.8C566.2 398.0 568.0 401.6 569.5 402.0C571.0 402.4 573.9 399.7 575.8 398.2C577.6 396.8 580.1 394.9 580.8 393.2C581.4 391.6 580.6 389.1 579.5 388.2C578.4 387.4 576.1 387.0 574.0 388.2C571.9 389.5 567.8 393.5 567.0 395.8ZM569.0 409.0C569.6 408.3 573.4 408.1 574.5 409.0C575.6 409.9 575.8 413.1 575.8 414.5C575.7 415.9 574.8 417.7 574.0 417.5C573.2 417.3 571.6 414.7 570.8 413.2C569.9 411.8 568.4 409.7 569.0 409.0ZM573.2 447.0C574.7 444.9 577.4 444.3 579.5 444.5C581.6 444.7 584.6 446.4 585.8 448.2C586.9 450.1 587.1 453.2 586.5 455.8C585.9 458.2 584.2 461.5 582.0 463.2C579.8 465.0 575.1 467.5 573.2 466.5C571.4 465.5 570.8 460.2 570.8 457.0C570.8 453.8 571.8 449.1 573.2 447.0ZM678.2 395.8C680.5 393.2 686.0 392.1 689.5 391.5C693.0 390.9 696.4 390.9 699.5 392.0C702.6 393.1 706.1 395.3 708.2 398.2C710.4 401.2 711.9 405.8 712.5 409.5C713.1 413.2 712.9 417.6 712.0 420.8C711.1 423.9 708.0 425.5 707.0 428.2C706.0 431.0 707.0 434.2 705.8 437.0C704.5 439.8 702.0 443.1 699.5 445.0C697.0 446.9 693.9 448.1 690.8 448.2C687.6 448.4 683.7 447.4 680.8 445.8C677.8 444.1 675.1 441.4 673.2 438.2C671.4 435.1 670.0 430.8 669.5 427.0C669.0 423.2 669.0 419.1 670.0 415.8C671.0 412.4 674.4 410.3 675.8 407.0C677.1 403.7 676.0 398.3 678.2 395.8ZM690.8 407.5C692.7 407.3 694.2 412.1 695.0 414.5C695.8 416.9 696.2 419.5 695.8 422.0C695.2 424.5 693.7 428.2 692.0 429.5C690.3 430.8 687.6 430.5 685.8 429.5C683.9 428.5 681.2 425.5 680.8 423.2C680.3 421.0 681.6 418.4 683.2 415.8C684.9 413.1 688.8 407.7 690.8 407.5ZM729.0 385.0C729.0 384.7 729.7 384.0 730.0 384.0C730.3 384.0 731.0 384.7 731.0 385.0C731.0 385.3 730.3 386.0 730.0 386.0C729.7 386.0 729.0 385.3 729.0 385.0ZM672.0 472.0C673.8 471.3 676.7 470.7 678.2 471.5C679.8 472.3 681.3 474.8 681.5 477.0C681.7 479.2 680.9 482.8 679.5 484.5C678.1 486.2 675.1 487.4 673.2 487.0C671.4 486.6 669.2 483.9 668.2 482.0C667.3 480.1 667.1 477.4 667.8 475.8C668.4 474.1 670.2 472.7 672.0 472.0ZM877.2 311.2C878.1 310.0 879.5 309.0 881.0 308.1C882.5 307.3 884.4 306.1 886.0 306.2C887.6 306.4 889.4 307.7 890.4 308.8C891.3 309.8 891.7 310.8 891.6 312.5C891.5 314.2 890.5 317.0 889.8 318.8C889.0 320.5 888.2 322.0 887.2 322.8C886.3 323.5 885.4 323.8 884.1 323.5C882.9 323.2 881.1 322.6 879.8 321.2C878.4 319.9 876.2 317.3 875.8 315.6C875.3 314.0 876.4 312.5 877.2 311.2ZM854.5 320.4C854.5 319.6 857.3 318.1 858.5 318.1C859.7 318.1 861.6 319.6 861.6 320.4C861.6 321.1 859.7 322.8 858.5 322.8C857.3 322.8 854.5 321.1 854.5 320.4ZM888.2 348.1C888.4 347.6 891.2 346.8 891.6 347.2C892.1 347.7 891.6 350.5 891.0 350.6C890.4 350.8 888.1 348.7 888.2 348.1ZM866.6 315.6C866.6 314.9 868.6 315.5 869.8 314.4C870.9 313.2 871.8 310.5 873.5 308.8C875.2 307.0 877.5 305.0 879.8 303.8C882.0 302.5 885.0 301.5 887.2 301.2C889.5 301.0 891.8 301.5 893.5 302.2C895.2 303.0 896.5 304.3 897.2 305.6C898.0 306.9 898.2 308.4 897.9 310.0C897.6 311.6 896.1 312.9 895.4 315.0C894.6 317.1 894.1 320.2 893.5 322.5C892.9 324.8 892.0 327.1 891.6 328.8C891.2 330.4 891.9 332.2 891.0 332.5C890.1 332.8 887.9 331.6 886.0 330.6C884.1 329.7 881.8 328.2 879.8 326.9C877.7 325.5 875.2 323.9 873.5 322.5C871.8 321.1 870.9 319.9 869.8 318.8C868.6 317.6 866.6 316.4 866.6 315.6ZM891.0 332.5C891.7 332.9 892.1 337.5 892.9 340.0C893.6 342.5 894.9 345.1 895.4 347.5C895.9 349.9 896.7 352.4 896.0 354.4C895.3 356.4 892.6 358.9 891.0 359.4C889.4 359.9 887.9 358.4 886.6 357.5C885.4 356.6 884.1 355.4 883.5 353.8C882.9 352.1 882.7 349.6 882.9 347.5C883.1 345.4 883.8 342.9 884.8 341.2C885.7 339.6 887.5 339.0 888.5 337.5C889.5 336.0 890.3 332.1 891.0 332.5ZM846.0 326.2C845.9 325.1 846.2 322.9 847.2 321.2C848.3 319.6 850.3 317.9 852.2 316.2C854.2 314.6 856.6 312.7 859.1 311.2C861.6 309.8 864.9 308.9 867.2 307.5C869.6 306.1 871.2 304.7 873.5 303.1C875.8 301.6 878.5 299.5 881.0 298.1C883.5 296.8 886.4 295.6 888.5 295.0C890.6 294.4 891.8 294.3 893.5 294.8C895.2 295.2 896.6 296.0 898.5 297.5C900.4 299.0 903.2 301.9 904.8 303.8C906.3 305.6 907.4 307.5 907.9 308.8C908.4 310.0 908.6 310.2 907.9 311.2C907.1 312.3 905.0 313.5 903.5 315.0C902.0 316.5 900.1 318.1 899.1 320.0C898.2 321.9 898.0 324.0 897.9 326.2C897.8 328.5 898.2 331.0 898.5 333.8C898.8 336.5 899.2 339.4 899.8 342.5C900.3 345.6 901.4 349.6 901.6 352.5C901.8 355.4 901.5 357.8 901.0 360.0C900.5 362.2 899.4 364.4 898.5 365.6C897.6 366.8 896.8 367.4 895.4 367.2C893.9 367.1 891.6 366.0 889.8 365.0C887.9 364.0 885.9 362.6 884.1 361.2C882.4 359.9 880.3 358.5 879.1 356.9C878.0 355.2 877.4 353.2 877.2 351.2C877.1 349.3 877.9 346.9 878.5 345.0C879.1 343.1 880.4 341.6 881.0 340.0C881.6 338.4 882.6 337.1 882.2 335.6C881.9 334.2 880.6 332.6 879.1 331.2C877.7 329.9 875.3 328.4 873.5 327.5C871.7 326.6 870.2 325.8 868.5 325.6C866.8 325.4 865.2 325.8 863.5 326.2C861.8 326.7 860.4 327.7 858.5 328.1C856.6 328.5 854.0 328.8 852.2 328.8C850.5 328.8 848.9 328.5 847.9 328.1C846.8 327.7 846.1 327.4 846.0 326.2ZM858.5 302.5C857.5 303.5 854.3 306.7 852.2 308.8C850.2 310.8 847.9 312.9 846.0 315.0C844.1 317.1 842.2 319.4 841.0 321.2C839.8 323.1 838.6 324.7 838.5 326.2C838.4 327.8 839.1 329.4 840.4 330.6C841.6 331.9 843.8 333.2 846.0 333.8C848.2 334.3 850.8 334.3 853.5 334.0C856.2 333.7 859.8 332.2 862.2 331.9C864.8 331.5 866.6 331.5 868.5 331.9C870.4 332.3 872.0 333.3 873.5 334.4C875.0 335.4 876.8 336.8 877.2 338.1C877.7 339.5 876.7 340.9 876.0 342.5C875.3 344.1 873.9 345.8 872.9 347.5C871.8 349.2 870.4 350.8 869.8 352.5C869.1 354.2 868.9 355.8 869.1 357.5C869.3 359.2 869.9 361.2 871.0 362.5C872.1 363.8 874.2 364.2 876.0 365.0C877.8 365.8 880.0 366.5 881.6 367.5C883.3 368.5 884.6 369.8 886.0 371.2C887.4 372.7 888.3 374.8 889.8 376.2C891.2 377.7 893.1 378.9 894.8 380.0C896.4 381.1 898.4 381.7 899.8 383.1C901.1 384.6 902.5 386.8 902.9 388.8C903.3 390.7 902.8 393.2 902.2 395.0C901.7 396.8 900.5 398.2 899.8 399.4C899.0 400.5 898.3 401.6 898.0 402.0M846.6 299.4C846.7 300.0 847.8 301.6 847.2 303.1C846.7 304.7 845.0 307.0 843.5 308.8C842.0 310.5 840.2 312.2 838.5 313.8C836.8 315.3 835.2 316.7 833.5 318.1C831.8 319.6 829.6 321.1 828.5 322.5C827.4 323.9 827.0 324.8 827.0 326.2C827.0 327.7 827.6 329.5 828.5 331.2C829.4 333.0 831.0 335.3 832.2 336.9C833.5 338.4 834.8 339.7 836.0 340.6C837.2 341.6 839.4 341.6 839.5 342.5C839.6 343.4 838.0 345.3 836.6 346.2C835.2 347.2 833.0 347.7 831.0 348.1C829.0 348.6 826.6 348.6 824.8 349.0C822.9 349.4 821.2 349.6 819.8 350.6C818.3 351.6 817.5 352.8 816.0 355.0C814.5 357.2 812.3 360.9 811.0 363.8C809.7 366.6 809.3 368.1 808.0 372.0C806.7 375.9 805.1 382.4 803.0 387.0C800.9 391.6 798.6 395.3 795.5 399.5C792.4 403.7 786.1 409.9 784.2 412.0M909.1 290.0C909.4 290.6 910.1 292.5 911.0 293.8C911.9 295.0 913.3 296.4 914.8 297.5C916.2 298.6 918.4 299.4 919.8 300.6C921.1 301.9 922.2 303.4 922.9 305.0C923.5 306.6 923.6 308.1 923.5 310.0C923.4 311.9 922.9 314.6 922.2 316.2C921.6 317.9 920.5 319.0 919.8 320.0C919.0 321.0 917.6 321.5 917.5 322.2C917.4 323.0 917.9 324.7 919.1 324.8C920.3 324.8 923.4 323.8 924.8 322.5C926.1 321.2 926.2 318.5 927.2 316.9C928.3 315.2 929.4 314.1 931.0 312.5C932.6 310.9 935.3 307.6 936.6 307.5C938.0 307.4 938.4 310.0 939.1 311.9C939.9 313.8 940.4 316.1 941.0 318.8C941.6 321.4 942.5 325.0 942.9 327.5C943.3 330.0 943.6 331.7 943.5 333.8C943.4 335.8 943.0 338.1 942.2 340.0C941.5 341.9 940.4 343.5 939.1 345.0C937.9 346.5 936.3 347.7 934.8 348.8C933.2 349.8 931.0 350.0 929.8 351.2C928.5 352.5 928.1 354.5 927.2 356.2C926.4 358.0 926.0 360.0 924.8 361.9C923.5 363.8 921.2 365.9 919.8 367.5C918.3 369.1 916.7 370.0 916.0 371.2C915.3 372.5 915.4 373.5 915.8 375.0C916.1 376.5 917.1 378.1 917.9 380.0C918.6 381.9 919.4 384.6 920.4 386.2C921.3 387.9 922.1 388.9 923.5 390.0C924.9 391.1 926.6 392.1 928.5 393.1C930.4 394.2 932.8 395.4 934.8 396.2C936.8 397.1 939.5 397.9 940.5 398.2M914.8 340.0C915.9 338.8 917.9 337.7 919.1 337.5C920.4 337.3 921.5 337.7 922.2 338.8C923.0 339.8 923.7 342.1 923.5 343.8C923.3 345.4 921.8 347.5 921.0 348.8C920.2 350.0 919.5 351.3 918.5 351.5C917.5 351.7 915.8 351.1 914.8 350.0C913.7 348.9 912.0 346.7 912.0 345.0C912.0 343.3 913.6 341.2 914.8 340.0ZM965.0 302.0 L966.0 309.5M965.5 337.0C965.7 339.1 965.7 345.8 966.8 349.5C967.8 353.2 969.9 356.6 971.8 359.5C973.6 362.4 976.6 364.1 978.0 367.0C979.4 369.9 979.8 373.7 980.0 377.0C980.2 380.3 978.8 384.1 979.2 387.0C979.8 389.9 982.0 392.0 983.0 394.5C984.0 397.0 984.8 399.9 985.5 402.0C986.2 404.1 986.8 406.2 987.0 407.0M940.5 398.2C941.5 398.9 945.1 400.1 946.8 402.0C948.4 403.9 949.0 406.2 950.5 409.5C952.0 412.8 953.8 417.4 955.5 422.0C957.2 426.6 959.2 432.4 960.5 437.0C961.8 441.6 961.8 445.3 963.0 449.5C964.2 453.7 966.5 458.2 968.0 462.0C969.5 465.8 970.5 468.7 971.8 472.0C973.0 475.3 974.7 478.3 975.5 482.0C976.3 485.7 976.5 492.0 976.8 494.0M898.0 402.0C896.8 403.7 892.8 409.8 890.5 412.0C888.2 414.2 886.3 415.4 884.2 415.0C882.2 414.6 880.7 411.2 878.0 409.5C875.3 407.8 871.3 405.6 868.0 405.0C864.7 404.4 861.1 404.6 858.0 405.8C854.9 406.9 851.8 411.5 849.2 412.0C846.8 412.5 844.0 409.5 843.0 409.0M829.2 419.0C830.0 418.8 831.5 420.7 831.8 422.0C832.0 423.3 831.1 426.0 830.5 427.0C829.9 428.0 828.5 428.9 828.0 428.2C827.5 427.6 827.0 424.8 827.2 423.2C827.5 421.7 828.5 419.2 829.2 419.0ZM915.5 437.0C917.0 435.8 920.0 434.3 921.8 434.5C923.5 434.7 925.4 435.8 926.0 438.2C926.6 440.8 926.2 446.0 925.5 449.5C924.8 453.0 923.4 456.6 921.8 459.5C920.1 462.4 917.5 465.5 915.5 467.0C913.5 468.5 911.2 469.3 910.0 468.2C908.8 467.2 908.4 463.9 908.5 460.8C908.6 457.6 909.8 452.6 910.5 449.5C911.2 446.4 911.7 444.1 912.5 442.0C913.3 439.9 914.0 438.2 915.5 437.0ZM192.0 516.0C192.5 517.1 194.4 520.2 195.0 522.8C195.6 525.3 194.7 528.2 195.5 531.5C196.3 534.8 198.2 539.3 200.0 542.8C201.8 546.2 204.4 550.1 206.2 552.0C208.1 553.9 209.4 552.5 211.2 554.0C213.1 555.5 215.2 558.1 217.5 561.0C219.8 563.9 222.7 568.3 225.0 571.5C227.3 574.7 229.6 577.1 231.2 580.2C232.9 583.4 233.1 586.7 235.0 590.2C236.9 593.8 239.8 597.8 242.5 601.5C245.2 605.2 248.3 609.0 251.2 612.8C254.2 616.5 257.7 620.5 260.0 624.0C262.3 627.5 264.0 630.7 265.0 634.0C266.0 637.3 265.6 640.7 266.2 644.0C266.9 647.3 267.9 650.8 268.8 654.0C269.6 657.2 270.8 661.5 271.2 663.0M128.8 494.0C129.6 494.8 132.1 498.6 133.8 499.0C135.4 499.4 137.7 497.3 138.8 496.5C139.8 495.7 139.8 494.4 140.0 494.0M128.8 506.5C129.8 505.3 131.7 504.3 133.8 504.5C135.8 504.7 139.0 506.6 141.2 507.8C143.5 508.9 146.0 509.8 147.0 511.5C148.0 513.2 148.0 516.0 147.5 517.8C147.0 519.5 145.4 521.4 143.8 522.0C142.1 522.6 139.6 522.4 137.5 521.5C135.4 520.6 132.9 518.2 131.2 516.5C129.6 514.8 127.9 513.2 127.5 511.5C127.1 509.8 127.7 507.7 128.8 506.5ZM222.5 494.0C222.0 494.6 219.0 496.5 219.2 497.8C219.5 499.0 222.3 501.8 223.8 501.5C225.2 501.2 226.2 497.2 228.0 496.0C229.8 494.8 233.4 494.3 234.5 494.0M261.2 501.0C262.9 500.3 265.4 499.8 267.5 500.2C269.6 500.8 272.1 502.1 273.8 504.0C275.4 505.9 277.1 509.2 277.5 511.5C277.9 513.8 277.3 516.3 276.2 517.8C275.2 519.2 273.3 520.5 271.2 520.2C269.2 520.0 266.0 518.2 263.8 516.5C261.5 514.8 259.0 512.2 258.0 510.2C257.0 508.2 257.0 506.0 257.5 504.5C258.0 503.0 259.6 501.7 261.2 501.0ZM286.0 527.8C284.8 527.1 280.5 523.2 278.8 524.0C277.0 524.8 275.5 529.6 275.5 532.8C275.5 535.9 277.6 539.6 278.8 542.8C279.9 545.9 281.3 548.7 282.5 551.5C283.7 554.3 285.4 558.2 286.0 559.5M286.0 626.0C285.0 626.8 280.0 629.2 280.0 631.0C280.0 632.8 285.0 635.6 286.0 636.5M121.8 567.8C121.8 567.2 122.5 565.9 122.8 566.0C123.0 566.1 123.3 567.7 123.2 568.2C123.2 568.8 122.5 569.3 122.2 569.2C122.0 569.2 121.7 568.3 121.8 567.8ZM389.0 494.0C387.9 495.7 384.0 500.2 382.2 504.0C380.5 507.8 379.5 512.8 378.5 516.5C377.5 520.2 377.0 524.0 376.0 526.5C375.0 529.0 374.1 531.3 372.2 531.5C370.4 531.7 367.2 528.8 364.8 527.8C362.2 526.7 359.5 525.2 357.2 525.2C355.0 525.2 353.1 527.8 351.0 527.8C348.9 527.8 347.0 526.0 344.8 525.2C342.5 524.5 339.5 523.5 337.2 523.5C335.0 523.5 332.9 524.5 331.0 525.2C329.1 526.0 327.9 527.2 326.0 527.8C324.1 528.3 320.8 528.4 319.8 528.5M291.5 528.5 L286.0 527.0M286.0 559.5C286.5 560.5 288.2 563.2 289.0 565.2C289.8 567.2 289.4 569.0 291.0 571.5C292.6 574.0 295.6 577.1 298.5 580.2C301.4 583.4 305.2 586.7 308.5 590.2C311.8 593.8 315.4 598.0 318.5 601.5C321.6 605.0 324.3 608.9 327.2 611.5C330.2 614.1 332.7 615.3 336.0 617.0C339.3 618.7 344.3 619.9 347.2 621.5C350.2 623.1 352.0 624.4 353.5 626.5C355.0 628.6 355.2 631.5 356.0 634.0C356.8 636.5 356.8 639.1 358.0 641.5C359.2 643.9 361.3 647.2 363.5 648.5C365.7 649.8 368.7 650.5 371.0 649.5C373.3 648.5 375.4 644.8 377.2 642.8C379.1 640.7 380.4 638.2 382.2 637.0C384.1 635.8 386.6 636.4 388.5 635.2C390.4 634.1 391.8 632.0 393.5 630.2C395.2 628.5 396.6 625.5 398.5 624.5C400.4 623.5 402.7 623.2 404.8 624.0C406.8 624.8 410.4 626.7 411.0 629.0C411.6 631.3 409.4 634.8 408.5 637.8C407.6 640.7 406.2 643.4 405.5 646.5C404.8 649.6 404.6 653.8 404.5 656.5C404.4 659.2 404.9 661.9 405.0 663.0M286.0 626.0C287.0 626.5 290.2 627.5 292.2 629.0C294.2 630.5 297.2 633.6 298.0 635.2C298.8 636.9 298.2 638.0 297.2 639.0C296.3 640.0 294.1 641.3 292.2 641.0C290.4 640.7 287.0 637.7 286.0 637.0M433.5 529.8C435.6 530.2 438.1 531.6 439.8 534.0C441.4 536.4 443.1 540.9 443.5 544.0C443.9 547.1 443.7 550.2 442.2 552.8C440.8 555.3 437.2 559.3 434.8 559.5C432.2 559.7 429.3 556.2 427.2 554.0C425.2 551.8 423.1 549.2 422.2 546.5C421.4 543.8 421.4 540.2 422.2 537.8C423.1 535.2 425.4 532.8 427.2 531.5C429.1 530.2 431.4 529.3 433.5 529.8ZM447.2 546.5C448.6 544.8 454.3 544.8 457.2 545.2C460.2 545.7 462.8 546.9 464.8 549.0C466.8 551.1 469.0 555.0 469.2 557.8C469.5 560.5 468.1 563.5 466.5 565.2C464.9 567.0 461.9 568.7 459.8 568.5C457.6 568.3 455.3 566.2 453.5 564.0C451.7 561.8 450.0 558.2 449.0 555.2C448.0 552.3 445.9 548.2 447.2 546.5ZM488.5 511.0C490.8 511.4 494.1 512.9 496.0 515.2C497.9 517.6 499.5 522.3 499.8 525.2C500.0 528.2 498.9 530.9 497.2 532.8C495.6 534.6 492.0 535.4 489.8 536.5C487.5 537.6 485.5 539.5 483.5 539.5C481.5 539.5 479.2 538.2 478.0 536.5C476.8 534.8 476.4 531.9 476.5 529.0C476.6 526.1 477.5 521.7 478.5 519.0C479.5 516.3 480.6 514.1 482.2 512.8C483.9 511.4 486.2 510.6 488.5 511.0ZM506.0 604.0C506.2 601.1 509.5 599.6 512.2 597.8C515.0 595.9 518.7 594.2 522.2 592.8C525.8 591.3 530.4 589.2 533.5 589.0C536.6 588.8 540.0 589.6 541.0 591.5C542.0 593.4 540.8 597.3 539.8 600.2C538.7 603.2 537.0 606.5 534.8 609.0C532.5 611.5 529.1 613.4 526.0 615.2C522.9 617.1 518.5 620.2 516.0 620.2C513.5 620.2 512.7 618.0 511.0 615.2C509.3 612.5 505.8 606.9 506.0 604.0ZM472.2 611.0C475.6 610.2 480.4 610.6 483.5 611.5C486.6 612.4 489.0 613.8 491.0 616.5C493.0 619.2 494.8 623.8 495.2 627.8C495.7 631.7 495.2 636.9 493.5 640.2C491.8 643.6 487.7 645.1 484.8 647.8C481.8 650.4 478.7 655.2 476.0 656.0C473.3 656.8 470.8 655.2 468.5 652.8C466.2 650.3 463.6 645.9 462.2 641.5C460.9 637.1 460.0 630.7 460.2 626.5C460.5 622.3 461.5 619.1 463.5 616.5C465.5 613.9 468.9 611.8 472.2 611.0ZM471.0 625.2C472.3 625.7 474.8 628.4 476.0 630.2C477.2 632.1 478.7 634.6 478.5 636.5C478.3 638.4 476.2 640.3 474.8 641.5C473.3 642.7 471.1 644.8 469.8 643.5C468.4 642.2 466.8 636.6 466.5 634.0C466.2 631.4 467.2 629.2 468.0 627.8C468.8 626.3 469.7 624.8 471.0 625.2ZM446.0 663.0C446.4 662.1 447.3 657.8 448.5 657.8C449.7 657.8 452.2 662.1 453.0 663.0M547.0 494.0C546.8 496.5 545.5 504.0 545.8 509.0C546.0 514.0 547.2 519.0 548.2 524.0C549.3 529.0 551.0 534.0 552.0 539.0C553.0 544.0 554.1 549.0 554.5 554.0C554.9 559.0 554.4 564.0 554.5 569.0C554.6 574.0 554.6 579.8 555.0 584.0C555.4 588.2 555.8 590.7 557.0 594.0C558.2 597.3 560.3 601.1 562.0 604.0C563.7 606.9 565.8 609.2 567.0 611.5C568.2 613.8 569.1 616.7 569.5 617.8M573.2 650.2C573.7 651.7 575.1 656.9 575.8 659.0C576.4 661.1 576.8 662.3 577.0 663.0M639.5 503.5C640.3 503.5 642.0 505.0 642.0 505.8C642.0 506.5 640.3 508.0 639.5 508.0C638.7 508.0 637.0 506.5 637.0 505.8C637.0 505.0 638.7 503.5 639.5 503.5ZM754.5 605.2C753.2 604.2 749.1 601.3 747.0 599.0C744.9 596.7 743.9 593.6 742.0 591.5C740.1 589.4 738.2 586.7 735.8 586.5C733.2 586.3 729.4 589.6 727.0 590.2C724.6 590.9 722.5 591.7 721.5 590.2C720.5 588.8 720.7 584.6 720.8 581.5C720.8 578.4 722.6 574.4 722.0 571.5C721.4 568.6 718.5 566.5 717.0 564.0C715.5 561.5 712.8 558.4 713.2 556.5C713.7 554.6 717.8 554.4 719.5 552.8C721.2 551.1 722.8 549.6 723.2 546.5C723.8 543.4 723.1 537.8 722.5 534.0C721.9 530.2 720.8 526.9 719.5 524.0C718.2 521.1 716.4 518.4 714.5 516.5C712.6 514.6 708.7 514.4 708.2 512.8C707.8 511.1 712.0 508.2 712.0 506.5C712.0 504.8 709.5 502.7 708.2 502.2C707.0 501.8 705.1 502.7 704.5 504.0C703.9 505.3 705.1 507.5 704.5 510.2C703.9 513.0 702.4 516.7 700.8 520.2C699.1 523.8 697.0 528.2 694.5 531.5C692.0 534.8 688.7 537.8 685.8 540.2C682.8 542.8 680.1 544.6 677.0 546.5C673.9 548.4 670.3 551.3 667.0 551.5C663.7 551.7 659.9 549.4 657.0 547.8C654.1 546.1 652.2 543.8 649.5 541.5C646.8 539.2 643.5 536.6 640.8 534.0C638.0 531.4 635.0 526.8 633.2 526.0C631.5 525.2 630.6 527.5 630.0 529.0C629.4 530.5 630.8 533.4 629.5 535.2C628.2 537.1 623.8 537.5 622.0 540.2C620.2 543.0 619.2 548.4 619.0 551.5C618.8 554.6 619.4 556.5 620.8 559.0C622.1 561.5 624.9 564.4 627.0 566.5C629.1 568.6 631.6 571.5 633.2 571.5C634.9 571.5 635.3 567.5 637.0 566.5C638.7 565.5 641.4 564.6 643.2 565.2C645.1 565.9 646.6 568.0 648.2 570.2C649.9 572.5 651.0 576.8 653.2 579.0C655.5 581.2 658.9 583.2 662.0 583.5C665.1 583.8 669.3 581.2 672.0 581.0C674.7 580.8 676.4 580.8 678.2 582.0C680.1 583.2 682.0 586.1 683.2 588.5C684.5 590.9 685.0 593.7 685.8 596.5C686.5 599.3 687.2 603.8 687.5 605.2M692.0 637.8C692.0 639.0 693.0 643.0 692.0 645.2C691.0 647.5 686.7 649.6 685.8 651.5C684.8 653.4 685.5 655.7 686.5 656.5C687.5 657.3 690.7 657.5 692.0 656.5C693.3 655.5 692.8 651.8 694.5 650.2C696.2 648.7 699.6 647.8 702.0 647.0C704.4 646.2 707.7 644.7 709.0 645.2C710.3 645.8 710.5 648.4 710.0 650.2C709.5 652.1 707.3 654.4 705.8 656.5C704.2 658.6 701.6 661.9 700.8 663.0M704.5 568.5C705.9 568.5 709.0 570.5 710.0 572.0C711.0 573.5 711.5 576.1 710.8 577.8C710.0 579.4 707.3 582.0 705.8 582.0C704.2 582.0 702.2 579.4 701.5 577.8C700.8 576.1 701.0 573.5 701.5 572.0C702.0 570.5 703.1 568.5 704.5 568.5ZM717.0 612.8C716.9 613.6 715.0 616.8 716.5 617.8C718.0 618.7 724.1 619.2 725.8 618.5C727.4 617.8 726.4 614.3 726.5 613.5M634.5 663.0C634.7 660.7 634.7 653.2 635.8 649.0C636.8 644.8 638.7 640.4 640.8 637.8C642.8 635.1 646.2 633.2 648.2 633.2C650.3 633.2 652.4 635.5 653.2 637.8C654.1 640.0 653.7 643.8 653.2 646.5C652.8 649.2 651.0 651.2 650.8 654.0C650.5 656.8 651.8 661.5 652.0 663.0M744.0 663.0C744.7 662.3 746.7 659.5 748.2 659.0C749.8 658.5 752.0 659.6 753.2 660.2C754.5 660.9 755.3 662.5 755.8 663.0M843.5 409.4C842.9 409.2 841.8 408.3 839.8 408.1C837.7 407.9 833.7 407.7 831.0 408.1C828.3 408.5 825.8 409.3 823.5 410.6C821.2 412.0 819.3 413.9 817.2 416.2C815.2 418.6 813.1 422.1 811.0 425.0C808.9 427.9 806.6 430.8 804.8 433.8C802.9 436.7 801.0 439.4 799.8 442.5C798.5 445.6 798.3 449.8 797.2 452.5C796.2 455.2 795.4 456.9 793.5 458.8C791.6 460.6 788.3 462.1 786.0 463.8C783.7 465.4 781.8 467.4 779.8 468.8C777.7 470.1 775.6 470.8 773.5 471.9C771.4 472.9 769.0 473.6 767.2 475.0C765.5 476.4 764.0 478.7 762.9 480.0C761.7 481.3 761.1 481.0 760.4 482.8C759.6 484.5 758.7 487.5 758.5 490.2C758.3 493.0 758.7 496.3 759.1 499.0C759.5 501.7 760.4 503.8 761.0 506.5C761.6 509.2 762.1 512.3 762.9 515.2C763.6 518.2 764.8 521.7 765.4 524.0C766.0 526.3 766.5 527.6 766.6 529.0C766.7 530.4 767.1 531.5 766.0 532.1C764.9 532.8 761.6 532.7 759.8 533.0C757.9 533.3 756.1 533.2 754.8 534.0C753.4 534.8 752.4 536.4 751.6 537.8C750.9 539.1 750.4 540.5 750.4 542.1C750.4 543.8 751.0 546.1 751.6 547.8C752.2 549.4 753.0 551.1 754.1 552.1C755.3 553.1 757.1 553.6 758.5 553.8C759.9 553.9 761.0 553.3 762.2 552.8C763.5 552.2 764.6 550.8 766.0 550.2C767.4 549.7 768.7 549.2 770.4 549.2C772.0 549.3 774.0 550.0 776.0 550.5C778.0 551.0 780.2 551.9 782.2 552.1C784.3 552.4 786.9 551.8 788.5 552.1C790.1 552.4 790.6 553.0 791.6 554.0C792.7 555.0 795.1 556.9 794.8 558.0C794.4 559.1 791.2 559.8 789.8 560.9C788.3 562.0 787.0 563.3 786.0 564.6C785.0 566.0 783.5 567.6 783.5 569.0C783.5 570.4 785.0 571.5 786.0 572.8C787.0 574.0 788.6 575.5 789.8 576.5C790.9 577.5 792.1 577.4 792.9 579.0C793.6 580.6 793.9 584.8 794.1 586.0M768.5 486.2C768.5 483.9 768.9 482.5 769.8 481.2C770.6 480.0 771.8 479.5 773.5 478.8C775.2 478.0 777.9 477.7 779.8 476.9C781.6 476.0 783.3 474.9 784.8 473.8C786.2 472.6 786.8 471.0 788.5 470.0C790.2 469.0 792.7 468.2 794.8 467.5C796.8 466.8 799.3 466.7 801.0 465.6C802.7 464.6 803.5 463.0 804.8 461.2C806.0 459.5 807.7 457.1 808.5 455.0C809.3 452.9 809.3 451.0 809.8 448.8C810.2 446.5 810.0 443.3 811.0 441.2C812.0 439.2 814.1 437.7 816.0 436.2C817.9 434.8 820.7 432.9 822.2 432.8C823.8 432.6 824.6 434.0 825.4 435.6C826.1 437.2 825.7 440.6 826.6 442.5C827.6 444.4 829.4 445.7 831.0 446.9C832.6 448.0 834.7 448.3 836.0 449.4C837.3 450.4 838.8 451.8 838.8 453.1C838.8 454.5 836.7 455.9 836.0 457.5C835.3 459.1 835.4 460.4 834.8 462.5C834.1 464.6 832.9 467.8 832.2 470.0C831.6 472.2 830.8 474.0 831.0 475.6C831.2 477.3 832.2 478.6 833.5 480.0C834.8 481.4 837.2 482.7 838.5 483.8C839.8 484.8 841.0 485.3 841.0 486.2C841.0 487.2 840.0 488.3 838.5 489.4C837.0 490.4 834.3 491.4 832.2 492.5C830.2 493.6 827.7 495.0 826.0 496.2C824.3 497.5 823.7 499.3 822.2 500.0C820.8 500.7 818.7 500.0 817.2 500.6C815.8 501.2 815.0 502.4 813.5 503.8C812.0 505.1 809.6 507.4 808.5 508.8C807.4 510.1 807.2 511.1 806.6 512.0C806.0 512.9 805.2 512.8 804.8 514.0C804.3 515.2 804.3 517.3 804.1 519.0C803.9 520.7 804.0 522.5 803.5 524.0C803.0 525.5 802.0 526.9 801.0 527.8C800.0 528.6 798.7 529.2 797.2 529.2C795.8 529.2 793.7 528.6 792.2 527.8C790.8 526.9 789.5 525.5 788.5 524.0C787.5 522.5 786.8 520.7 786.0 519.0C785.2 517.3 784.8 515.7 783.5 514.0C782.2 512.3 780.2 510.9 778.5 509.0C776.8 507.1 775.0 505.0 773.5 502.8C772.0 500.5 770.6 498.0 769.8 495.2C768.9 492.5 768.5 488.6 768.5 486.2ZM774.1 486.5C774.5 485.0 775.7 484.5 777.2 484.0C778.8 483.5 781.6 484.6 783.5 483.4C785.4 482.2 787.2 478.6 788.5 476.9C789.8 475.2 789.8 473.9 791.0 473.1C792.2 472.4 794.1 472.1 796.0 472.2C797.9 472.4 800.6 473.2 802.2 473.8C803.9 474.3 805.2 474.6 806.0 475.6C806.8 476.7 807.2 478.2 807.2 480.0C807.2 481.8 806.6 484.0 806.0 486.5C805.4 489.0 804.5 492.6 803.5 495.2C802.5 497.9 801.4 499.6 799.8 502.1C798.1 504.7 795.6 510.1 793.5 510.5C791.4 510.9 789.3 506.3 787.2 504.6C785.2 502.9 782.7 501.4 781.0 500.2C779.3 499.1 778.2 499.0 777.2 497.8C776.2 496.5 775.5 494.6 775.0 492.8C774.5 490.9 773.8 488.0 774.1 486.5ZM782.9 491.5C782.8 488.6 791.2 479.5 794.1 477.8C797.0 476.0 799.6 479.0 800.4 480.9C801.1 482.8 799.4 486.6 798.5 489.0C797.6 491.4 797.4 494.8 794.8 495.2C792.1 495.7 783.0 494.4 782.9 491.5ZM864.0 511.5C863.3 511.2 861.3 510.2 859.8 509.6C858.2 509.0 856.4 508.3 854.8 507.8C853.1 507.2 851.4 506.0 849.8 506.2C848.1 506.5 846.4 507.7 844.8 509.0C843.1 510.3 840.8 512.1 839.8 514.0C838.7 515.9 838.5 518.4 838.2 520.2C838.0 522.1 837.8 523.6 838.5 525.2C839.2 526.9 840.6 528.6 842.2 530.2C843.9 531.9 846.6 533.6 848.5 535.2C850.4 536.9 852.1 538.6 853.5 540.2C854.9 541.9 856.0 543.6 856.6 545.2C857.2 546.9 857.7 548.7 857.2 550.2C856.8 551.8 855.5 553.6 854.1 554.6C852.8 555.7 850.4 555.6 849.1 556.5C847.9 557.4 847.0 558.6 846.6 560.2C846.2 561.9 846.7 564.8 846.6 566.5C846.5 568.2 846.7 569.2 846.0 570.2C845.3 571.3 843.9 572.6 842.2 572.8C840.6 572.9 838.1 571.8 836.0 570.9C833.9 569.9 831.5 568.3 829.8 567.1C828.0 566.0 825.9 565.1 825.4 564.0C824.9 562.9 826.2 561.5 826.6 560.2C827.0 559.0 827.9 557.8 827.9 556.5C827.9 555.2 827.0 553.0 826.6 552.8C826.2 552.5 825.7 554.2 825.4 555.2C825.1 556.3 825.9 558.1 824.8 559.0C823.6 559.9 820.4 560.0 818.5 560.9C816.6 561.7 814.8 562.6 813.5 564.0C812.2 565.4 811.6 566.9 811.0 569.0C810.4 571.1 809.8 574.2 809.8 576.5C809.8 578.8 810.6 581.2 811.0 582.8C811.4 584.3 812.0 585.5 812.2 586.0M864.0 568.4C863.2 568.6 860.4 568.7 859.1 569.6C857.9 570.6 857.2 572.2 856.6 574.0C856.0 575.8 855.8 578.2 855.4 580.2C855.0 582.2 854.3 585.0 854.1 586.0M864.0 509.5C864.5 509.8 865.2 509.9 866.8 511.5C868.2 513.1 870.9 516.1 873.0 519.0C875.1 521.9 877.2 526.1 879.2 529.0C881.3 531.9 883.4 534.5 885.5 536.5C887.6 538.5 889.7 540.4 891.8 541.0C893.8 541.6 896.1 541.2 898.0 540.2C899.9 539.3 900.9 536.5 903.0 535.2C905.1 534.0 908.0 533.0 910.5 532.8C913.0 532.5 916.8 533.4 918.0 533.5M941.8 551.5C942.6 553.2 944.5 558.4 946.8 561.5C949.0 564.6 952.6 567.3 955.5 570.2C958.4 573.2 961.8 575.7 964.2 579.0C966.8 582.3 968.8 586.9 970.5 590.2C972.2 593.6 973.6 596.5 974.2 599.0C974.9 601.5 975.3 602.8 974.2 605.2C973.2 607.8 970.3 611.3 968.0 614.0C965.7 616.7 962.8 619.0 960.5 621.5C958.2 624.0 955.5 626.5 954.2 629.0C953.0 631.5 954.2 634.5 953.0 636.5C951.8 638.5 948.8 641.0 946.8 641.0C944.7 641.0 942.6 638.2 940.5 636.5C938.4 634.8 937.2 632.2 934.2 631.0C931.3 629.8 926.3 629.0 923.0 629.0C919.7 629.0 915.9 629.5 914.2 631.0C912.6 632.5 912.8 635.6 913.0 637.8C913.2 639.9 915.9 641.9 915.5 644.0C915.1 646.1 911.8 648.6 910.5 650.2C909.2 651.9 907.5 651.9 907.5 654.0C907.5 656.1 910.0 661.5 910.5 663.0M812.2 586.0C812.2 586.1 811.0 584.8 811.8 586.5C812.5 588.2 815.7 593.2 816.8 596.5C817.8 599.8 817.2 603.2 818.0 606.5C818.8 609.8 820.1 613.6 821.8 616.5C823.4 619.4 826.3 621.3 828.0 624.0C829.7 626.7 830.5 629.8 831.8 632.8C833.0 635.7 833.8 638.4 835.5 641.5C837.2 644.6 839.7 649.0 841.8 651.5C843.8 654.0 846.3 656.9 848.0 656.5C849.7 656.1 851.3 652.3 851.8 649.0C852.2 645.7 851.1 640.7 850.5 636.5C849.9 632.3 849.2 627.8 848.0 624.0C846.8 620.2 843.9 617.1 843.0 614.0C842.1 610.9 841.9 608.2 842.5 605.2C843.1 602.3 845.2 599.0 846.8 596.5C848.3 594.0 850.5 591.8 851.8 590.2C853.0 588.7 853.6 587.5 854.0 587.0M864.0 569.2C864.7 569.0 866.3 567.6 868.0 567.8C869.7 567.9 872.6 568.6 874.2 570.2C875.9 571.9 877.2 574.6 878.0 577.8C878.8 580.9 878.6 585.5 879.2 589.0C879.9 592.5 880.3 595.9 881.8 599.0C883.2 602.1 886.5 605.2 888.0 607.8C889.5 610.2 890.9 611.7 890.5 614.0C890.1 616.3 887.6 618.6 885.5 621.5C883.4 624.4 879.9 628.2 878.0 631.5C876.1 634.8 874.9 638.2 874.2 641.5C873.6 644.8 874.7 647.9 874.2 651.5C873.8 655.1 872.2 661.1 871.8 663.0M794.0 586.0C794.2 586.1 794.4 585.2 795.5 586.5C796.6 587.8 799.5 591.1 800.5 594.0C801.5 596.9 801.3 600.7 801.8 604.0C802.2 607.3 802.4 610.7 803.0 614.0C803.6 617.3 804.2 620.7 805.5 624.0C806.8 627.3 809.0 630.7 810.5 634.0C812.0 637.3 813.6 641.3 814.2 644.0C814.9 646.7 815.1 650.2 814.2 650.2C813.4 650.2 811.1 646.3 809.2 644.0C807.4 641.7 805.7 639.0 803.0 636.5C800.3 634.0 795.9 631.5 793.0 629.0C790.1 626.5 787.8 624.0 785.5 621.5C783.2 619.0 780.5 616.3 779.2 614.0C778.0 611.7 778.8 608.8 778.0 607.8C777.2 606.7 775.9 607.1 774.2 607.8C772.6 608.4 769.0 610.9 768.0 611.5M909.2 546.5C909.9 543.9 913.0 543.7 915.5 543.5C918.0 543.3 921.8 543.9 924.2 545.2C926.8 546.6 928.8 549.0 930.5 551.5C932.2 554.0 932.6 557.8 934.2 560.2C935.9 562.8 937.4 563.8 940.5 566.5C943.6 569.2 949.9 573.2 953.0 576.5C956.1 579.8 957.2 582.1 959.2 586.5C961.3 590.9 965.1 598.8 965.5 602.8C965.9 606.7 963.8 608.8 961.8 610.2C959.7 611.7 956.1 612.3 953.0 611.5C949.9 610.7 946.3 607.8 943.0 605.2C939.7 602.8 936.1 599.0 933.0 596.5C929.9 594.0 926.5 592.8 924.2 590.2C922.0 587.8 920.7 584.8 919.2 581.5C917.8 578.2 916.8 574.0 915.5 570.2C914.2 566.5 912.8 563.0 911.8 559.0C910.7 555.0 908.6 549.1 909.2 546.5ZM931.8 579.0C933.0 577.5 935.3 575.8 938.0 576.0C940.7 576.2 945.3 578.5 948.0 580.2C950.7 582.0 952.7 583.8 954.2 586.5C955.8 589.2 957.3 593.6 957.5 596.5C957.7 599.4 956.7 602.8 955.5 604.0C954.3 605.2 952.6 604.8 950.5 604.0C948.4 603.2 945.5 600.9 943.0 599.0C940.5 597.1 937.6 595.0 935.5 592.8C933.4 590.5 931.1 587.5 930.5 585.2C929.9 583.0 930.5 580.5 931.8 579.0ZM922.5 559.5C923.0 558.2 925.8 557.5 926.8 558.5C927.7 559.5 928.5 563.9 928.0 565.2C927.5 566.6 924.4 567.5 923.5 566.5C922.6 565.5 922.0 560.8 922.5 559.5ZM946.0 588.5C946.4 587.7 948.6 588.1 949.2 589.0C949.9 589.9 950.2 593.2 949.8 594.0C949.3 594.8 947.4 594.9 946.8 594.0C946.1 593.1 945.6 589.3 946.0 588.5ZM826.0 600.2C826.8 600.0 829.0 602.6 829.2 604.0C829.5 605.4 828.3 608.3 827.5 608.5C826.7 608.7 824.5 606.6 824.2 605.2C824.0 603.9 825.2 600.5 826.0 600.2ZM787.5 663.0C788.2 662.1 790.2 658.8 791.8 657.8C793.3 656.7 795.1 656.3 796.8 656.5C798.4 656.7 800.4 657.9 801.8 659.0C803.1 660.1 804.5 662.3 805.0 663.0M978.0 494.0C978.4 495.0 979.5 498.4 980.5 500.2C981.5 502.1 983.2 504.4 984.2 505.2C985.3 506.1 986.5 505.2 987.0 505.2M561.0 476.2C560.1 477.3 556.3 480.6 555.4 482.5C554.4 484.4 555.0 485.4 555.4 487.5C555.8 489.6 557.7 492.5 557.9 495.0C558.0 497.5 556.4 500.2 556.2 502.5C556.1 504.8 556.7 506.7 557.2 508.8C557.8 510.8 559.5 513.1 559.8 515.0C560.0 516.9 558.7 518.3 558.5 520.0C558.3 521.7 558.3 523.3 558.8 525.0C559.2 526.7 559.8 528.7 561.0 530.0C562.2 531.3 564.6 532.5 566.0 532.8C567.4 533.0 568.4 532.3 569.1 531.2C569.9 530.2 570.7 528.1 570.4 526.2C570.1 524.4 568.3 521.9 567.2 520.0C566.2 518.1 564.1 517.3 564.1 515.0C564.1 512.7 566.2 509.0 567.2 506.2C568.3 503.5 569.4 501.0 570.4 498.8C571.3 496.5 571.5 494.4 572.9 492.5C574.2 490.6 577.0 489.3 578.5 487.5C580.0 485.7 580.8 483.8 581.6 481.9C582.5 480.0 582.5 477.7 583.5 476.2C584.5 474.8 586.4 474.4 587.9 473.1C589.3 471.9 591.5 469.5 592.2 468.8M906.5 427.5C908.3 426.5 911.3 425.3 914.0 424.8C916.7 424.2 920.2 423.9 922.8 424.0C925.2 424.1 927.1 424.6 929.0 425.6C930.9 426.6 932.9 428.4 934.0 430.0C935.1 431.6 935.8 432.7 935.9 435.0C936.0 437.3 935.2 440.4 934.6 443.8C934.0 447.1 933.1 451.7 932.1 455.0C931.2 458.3 930.6 460.8 929.0 463.8C927.4 466.7 924.4 469.8 922.8 472.5C921.1 475.2 920.0 478.0 919.0 480.0C918.0 482.0 917.5 484.1 916.5 484.4C915.5 484.7 914.4 482.6 912.8 481.9C911.1 481.2 908.6 480.5 906.5 480.2C904.4 480.0 901.9 480.7 900.2 480.6C898.6 480.5 897.4 480.4 896.8 479.8C896.1 479.1 897.1 477.9 896.5 476.9C895.9 475.9 894.2 474.9 893.4 473.8C892.5 472.6 891.5 471.4 891.2 470.0C891.0 468.6 891.4 467.3 892.1 465.6C892.9 464.0 894.9 462.2 895.9 460.0C896.8 457.8 897.1 455.2 897.8 452.5C898.4 449.8 899.0 446.5 899.6 443.8C900.2 441.0 900.9 438.4 901.5 436.2C902.1 434.1 902.5 432.1 903.4 430.6C904.2 429.2 904.7 428.5 906.5 427.5ZM889.0 483.8C890.0 482.8 892.2 482.1 894.0 481.9C895.8 481.7 898.2 481.7 899.6 482.5C901.1 483.3 901.4 485.4 902.8 486.9C904.1 488.3 906.4 490.0 907.8 491.2C909.1 492.5 910.2 493.1 910.9 494.4C911.5 495.6 912.0 497.5 911.5 498.8C911.0 500.0 909.2 500.8 907.8 501.9C906.3 502.9 904.4 504.8 902.8 505.0C901.1 505.2 899.4 504.2 897.8 503.1C896.1 502.1 894.1 500.3 892.8 498.8C891.4 497.2 890.4 495.6 889.6 493.8C888.8 491.9 888.1 489.2 888.0 487.5C887.9 485.8 888.0 484.7 889.0 483.8Z"/>
<path stroke="#3c3c3c" stroke-width="0.75" stroke-linejoin="round" d="M85.2 117.8 L83.8 152.5 L82.0 183.8 L78.8 235.0 L74.5 302.0M82.0 183.8 L150.0 186.2 L211.8 189.5 L286.0 192.2M226.2 117.8 L221.2 131.2 L216.2 155.0 L212.5 175.0 L211.2 189.5 L211.0 197.5 L213.2 215.0 L212.8 237.0M286.0 192.2 L348.5 195.2 L408.5 198.0 L476.0 200.8 L542.0 203.0M411.5 117.8 L410.0 160.0 L408.5 198.0M542.0 203.0 L588.2 204.5 L590.8 207.0 L677.0 209.5 L708.2 210.0 L709.0 205.5 L774.5 207.0 L798.0 207.5M586.5 117.8 L595.8 126.2 L607.5 131.2 L624.5 143.8 L645.8 161.2 L659.5 181.2 L677.0 209.5 L678.2 212.0 L697.0 227.5 L722.0 252.5 L739.5 275.0 L750.8 294.5 L756.5 302.0M608.2 117.8 L607.8 131.2M797.8 208.1 L833.0 209.0 L868.0 210.0 L896.0 210.4M913.8 118.0 L913.5 147.5 L913.1 185.0 L912.5 209.4 L910.0 211.2 L909.4 222.0M880.0 210.0 L906.2 210.6 L912.5 209.4M909.4 222.0 L909.6 227.5 L909.4 241.2 L909.4 265.0 L908.5 302.0M909.4 241.2 L942.5 241.5 L987.0 242.5M74.0 302.0 L72.5 322.0 L70.8 344.5M583.2 371.5 L584.0 380.8 L575.8 383.2 L574.0 388.2M568.2 392.0 L572.5 389.0 L574.5 391.5 L579.5 389.5 L580.0 392.0 L575.8 393.2 L571.5 397.0 L569.5 395.0M696.5 494.0 L696.5 476.5 L730.8 477.0 L789.5 478.2 L790.8 474.5 L798.0 474.5M908.5 302.0 L908.2 327.5 L907.9 365.0 L907.5 402.0M840.4 383.5 L849.8 386.9 L857.9 386.2 L868.5 390.0 L886.0 393.8 L901.0 397.5 L907.5 400.0 L916.0 400.5 L941.0 400.5M923.0 400.2 L940.5 400.2 L948.0 396.5 L954.2 395.8 L960.5 399.5 L968.0 400.0 L975.5 396.5 L987.0 393.2M907.0 399.5 L906.0 452.0 L905.5 477.0 L905.5 494.0M940.5 400.2 L941.2 427.0 L939.2 452.0 L938.0 477.0 L937.5 494.0M956.8 400.2 L957.5 409.5 L965.5 418.2 L968.0 420.8 L978.0 421.2 L979.2 429.5 L981.8 437.0 L987.0 445.0M798.0 474.6 L843.0 475.2 L905.5 476.2M859.2 494.0 L864.0 491.2 L871.5 487.0 L885.2 481.5 L896.5 481.2 L901.5 483.8 L907.8 488.2 L916.5 492.0 L921.5 493.5 L937.0 493.5 L947.8 493.0 L956.5 489.5 L964.0 487.0 L970.2 484.8 L976.5 484.2 L982.8 483.2 L987.0 483.8M695.0 494.0 L695.0 541.0 L634.5 541.5 L633.2 577.8M846.0 475.2 L847.9 479.0 L848.8 486.5 L848.5 497.8M905.5 494.0 L905.0 505.2 L902.5 506.0 L901.8 544.0 L900.5 581.5 L899.2 615.8M848.5 494.0 L848.5 497.0 L861.8 497.8 L864.2 505.2 L866.8 515.2 L870.5 522.8 L875.5 524.0 L875.0 530.2 L878.0 534.0 L877.5 538.5 L883.0 540.2 L884.2 544.0 L890.5 545.2 L893.0 554.0 L896.8 562.8 L903.0 569.0M937.5 494.0 L938.0 505.2 L941.0 514.0 L943.0 524.0 L946.8 534.0 L963.0 536.0 L963.5 541.5 L963.5 579.0 L966.8 584.0 L968.0 592.8 L973.0 600.2 L987.0 601.5M963.5 541.5 L978.0 541.0 L987.0 542.8M294.3 244.5 L294.8 244.1 L295.2 244.5 L294.8 244.9ZM411.6 174.5 L412.0 174.1 L412.4 174.5 L412.0 174.9ZM571.5 542.8 L572.0 542.3 L572.5 542.8 L572.0 543.2ZM835.8 630.2 L836.2 629.8 L836.7 630.2 L836.2 630.7ZM818.8 657.8 L819.2 657.3 L819.7 657.8 L819.2 658.2ZM420.6 656.5 L421.0 656.0 L421.4 656.5 L421.0 657.0ZM799.0 290.0 L799.5 289.6 L800.0 290.0 L799.5 290.4Z"/>
<path stroke="#202020" stroke-width="1" stroke-linejoin="round" d="M212.8 237.0 L221.2 240.0 L240.0 255.0 L247.0 268.8 L249.5 276.2 L245.0 287.5 L242.0 302.0M249.5 276.2 L252.5 283.8 L258.8 290.5 L270.0 292.5 L286.0 297.0M286.0 297.0 L306.0 299.0 L323.5 302.0M711.5 117.8 L719.5 126.2 L729.5 140.0 L739.5 153.8 L749.5 162.5 L759.5 175.0 L769.5 185.0 L775.8 196.2 L777.0 220.0 L772.0 240.0 L765.8 250.0 L762.0 260.0 L759.5 275.0 L759.0 294.5 L750.8 294.5M774.5 193.8 L779.5 186.2 L789.5 180.0 L798.0 176.2M798.0 176.9 L803.0 174.8 L815.5 172.2 L829.2 171.2 L835.5 166.2 L843.0 160.6 L854.2 155.0 L858.6 148.8 L859.9 141.2 L858.2 133.8 L858.6 128.1 L856.1 122.5 L853.6 118.0M242.0 302.0 L240.0 317.0 L237.0 333.2 L230.0 349.5 L225.8 362.0 L225.5 374.5 L227.5 387.0 L225.0 397.0 L221.2 408.2M321.0 302.0 L348.5 306.5 L371.0 309.5 L383.5 312.0 L403.5 313.2 L416.0 314.0 L428.0 317.5 L433.5 325.8 L446.0 345.8 L461.0 369.5 L473.5 388.2 L488.5 402.0 L496.0 405.0 L506.0 405.0 L522.2 401.5 L536.0 387.0 L542.0 382.5M542.0 382.5 L553.2 375.8 L572.0 370.8 L592.0 367.5 L622.0 365.8 L637.0 360.0 L650.8 355.2 L660.0 355.2 L697.0 338.2 L724.5 326.5 L738.2 322.5 L754.5 323.2 L757.5 318.2M660.0 355.2 L652.0 372.0 L642.0 387.0 L636.5 399.5 L635.8 414.5 L634.0 427.0 L632.5 434.5 L620.8 442.0 L613.2 457.0 L606.5 472.0 L605.8 494.0M757.5 302.0 L758.2 318.2 L754.5 323.2 L755.8 337.0 L754.0 357.0 L752.5 384.5 L754.0 409.5 L750.8 432.0 L745.8 449.5 L737.0 464.5 L730.8 477.0 L728.2 494.0M758.2 318.2 L768.2 324.5 L782.0 334.5 L785.8 339.5 L798.0 349.5M763.2 308.8 L776.5 319.0M798.0 349.5 L816.0 364.0 L827.2 373.1 L840.4 383.5M840.4 383.5 L842.2 388.8 L846.0 402.0M846.0 402.0 L849.2 412.0 L845.5 422.0 L842.5 430.8 L838.0 434.5 L835.0 443.2 L832.5 445.8 L834.2 452.0 L839.2 462.0 L844.2 472.0 L848.0 479.5 L848.5 494.0M605.8 494.0 L597.0 507.8 L589.5 524.0 L587.5 544.0 L586.5 555.2M729.0 494.0 L730.0 509.0 L731.5 526.5 L733.2 539.0 L742.0 549.0 L747.0 561.5 L754.5 572.8 L756.5 586.5 L757.5 592.8 L762.0 599.0 L765.2 601.5 L763.2 607.8 L760.8 612.0M757.5 592.8 L759.5 601.5 L755.8 607.8 L754.5 611.5M798.0 567.8 L792.0 576.5 L790.8 584.0 L784.5 591.5 L779.5 597.8 L772.0 602.8 L765.8 607.8 L762.0 611.5M859.2 494.0 L856.0 495.2 L848.5 497.8 L846.6 496.5 L842.2 499.0 L837.2 502.8 L831.0 504.6 L831.6 510.2 L829.8 517.8 L827.2 527.8 L825.0 535.2 L822.9 539.0 L817.2 544.0 L811.0 549.0 L806.6 551.5 L802.9 555.2 L800.4 560.2 L799.1 566.5"/>
<path stroke="#000" stroke-width="1.5" stroke-linejoin="round" d="M38.0 330.8 L286.0 436.5M286.0 436.5 L424.8 494.0M38.0 602.8 L52.5 610.8 L67.5 615.2 L85.0 621.0 L101.2 627.8 L115.0 636.0 L129.2 645.8 L131.8 663.0M424.8 494.0 L542.0 541.5M542.0 541.5 L629.5 576.2 L718.2 611.8"/>
<path stroke="#000" stroke-width="1.15" stroke-linejoin="round" d="M718.2 611.8 L754.5 613.0 L798.0 614.8M768.0 614.0 L843.0 615.5 L899.2 616.2 L987.0 617.6"/>
<text x="96.2" y="233.8" transform="rotate(72 96.2 230.0)" text-anchor="middle" font-size="11" fill="#666" stroke="none" font-family="Liberation Sans, sans-serif">1000</text>
<text x="672.5" y="166.3" transform="rotate(85 672.5 162.5)" text-anchor="middle" font-size="11" fill="#666" stroke="none" font-family="Liberation Sans, sans-serif">2000</text>
<text x="736.5" y="145.1" transform="rotate(-91 736.5 141.2)" text-anchor="middle" font-size="11" fill="#666" stroke="none" font-family="Liberation Sans, sans-serif">3000</text>
<text x="798.0" y="229.4" transform="rotate(-65 798.0 225.6)" text-anchor="middle" font-size="11" fill="#666" stroke="none" font-family="Liberation Sans, sans-serif">4000</text>
<text x="910.0" y="225.7" transform="rotate(90 910.0 221.9)" text-anchor="middle" font-size="11" fill="#666" stroke="none" font-family="Liberation Sans, sans-serif">3000</text>
<text x="774.5" y="429.1" transform="rotate(-35 774.5 425.2)" text-anchor="middle" font-size="11" fill="#666" stroke="none" font-family="Liberation Sans, sans-serif">3000</text>
<text x="968.8" y="326.6" transform="rotate(-88 968.8 322.8)" text-anchor="middle" font-size="11" fill="#666" stroke="none" font-family="Liberation Sans, sans-serif">4000</text>
<text x="184.5" y="507.3" transform="rotate(58 184.5 503.5)" text-anchor="middle" font-size="11" fill="#666" stroke="none" font-family="Liberation Sans, sans-serif">1000</text>
<text x="306.0" y="534.3" transform="rotate(-2 306.0 530.5)" text-anchor="middle" font-size="11" fill="#666" stroke="none" font-family="Liberation Sans, sans-serif">2000</text>
<text x="570.0" y="638.3" transform="rotate(82 570.0 634.5)" text-anchor="middle" font-size="11" fill="#666" stroke="none" font-family="Liberation Sans, sans-serif">3000</text>
<text x="690.0" y="626.5" transform="rotate(88 690.0 622.8)" text-anchor="middle" font-size="11" fill="#666" stroke="none" font-family="Liberation Sans, sans-serif">4000</text>
<text x="931.8" y="543.5" transform="rotate(35 931.8 539.8)" text-anchor="middle" font-size="11" fill="#666" stroke="none" font-family="Liberation Sans, sans-serif">5000</text>
</svg>
</div>
<div id="bt" class="t">U of A Dept of Hydrology and Atmospheric Sciences WRF-HRRR 18Z</div>
<div id="cb"><i style="left:0px;width:52px;background:#fff"></i><i style="left:52px;width:53px;background:#00eaec"></i><i style="left:105px;width:52px;background:#689ef5"></i><i style="left:157px;width:52px;background:#3333ff"></i><i style="left:209px;width:53px;background:#00ff00"></i><i style="left:262px;width:52px;background:#00c800"></i><i style="left:314px;width:53px;background:#008000"></i><i style="left:367px;width:52px;background:#ffff00"></i><i style="left:419px;width:52px;background:#e6c000"></i><i style="left:471px;width:53px;background:#ff8c00"></i><i style="left:524px;width:52px;background:#ff3300"></i><i style="left:576px;width:52px;background:#c01800"></i><i style="left:628px;width:53px;background:#800000"></i><i style="left:681px;width:52px;background:#ff00ff"></i><i style="left:733px;width:52px;background:#9955cc"></i><i style="left:785px;width:53px;background:#d3d3d3"></i></div>
<div class="lb" style="left:145.4px">0.01</div>
<div class="lb" style="left:197.7px">0.10</div>
<div class="lb" style="left:250.1px">0.25</div>
<div class="lb" style="left:302.5px">0.40</div>
<div class="lb" style="left:354.8px">0.7</div>
<div class="lb" style="left:407.2px">1.0</div>
<div class="lb" style="left:459.6px">1.25</div>
<div class="lb" style="left:511.9px">1.75</div>
<div class="lb" style="left:564.3px">2.5</div>
<div class="lb" style="left:616.7px">3.0</div>
<div class="lb" style="left:669px">4.0</div>
<div class="lb" style="left:721.4px">5.0</div>
<div class="lb" style="left:773.8px">6.0</div>
<div class="lb" style="left:826.1px">8.0</div>
<div class="lb" style="left:878.5px">10.0</div>
</body></html>
